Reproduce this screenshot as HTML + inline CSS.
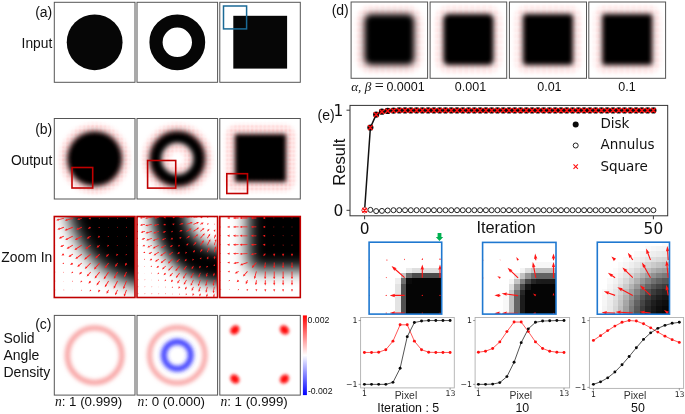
<!DOCTYPE html>
<html lang="en"><head><meta charset="utf-8"><title>Figure</title>
<style>html,body{margin:0;padding:0;background:#fff}svg{display:block}</style>
</head><body>
<svg width="685" height="414" viewBox="0 0 685 414">
<defs>
<pattern id="dots" width="12.6" height="12.6" patternUnits="userSpaceOnUse"><g fill="#ff1010"><rect x="0.3" y="0.3" width="0.55" height="0.55"/><rect x="1.56" y="0.3" width="0.55" height="0.55"/><rect x="2.82" y="0.3" width="0.55" height="0.55"/><rect x="4.08" y="0.3" width="0.55" height="0.55"/><rect x="5.34" y="0.3" width="0.55" height="0.55"/><rect x="6.6" y="0.3" width="0.55" height="0.55"/><rect x="7.86" y="0.3" width="0.55" height="0.55"/><rect x="9.12" y="0.3" width="0.55" height="0.55"/><rect x="10.38" y="0.3" width="0.55" height="0.55"/><rect x="11.64" y="0.3" width="0.55" height="0.55"/><rect x="0.3" y="1.56" width="0.55" height="0.55"/><rect x="1.56" y="1.56" width="0.55" height="0.55"/><rect x="2.82" y="1.56" width="0.55" height="0.55"/><rect x="4.08" y="1.56" width="0.55" height="0.55"/><rect x="5.34" y="1.56" width="0.55" height="0.55"/><rect x="6.6" y="1.56" width="0.55" height="0.55"/><rect x="7.86" y="1.56" width="0.55" height="0.55"/><rect x="9.12" y="1.56" width="0.55" height="0.55"/><rect x="10.38" y="1.56" width="0.55" height="0.55"/><rect x="11.64" y="1.56" width="0.55" height="0.55"/><rect x="0.3" y="2.82" width="0.55" height="0.55"/><rect x="1.56" y="2.82" width="0.55" height="0.55"/><rect x="2.82" y="2.82" width="0.55" height="0.55"/><rect x="4.08" y="2.82" width="0.55" height="0.55"/><rect x="5.34" y="2.82" width="0.55" height="0.55"/><rect x="6.6" y="2.82" width="0.55" height="0.55"/><rect x="7.86" y="2.82" width="0.55" height="0.55"/><rect x="9.12" y="2.82" width="0.55" height="0.55"/><rect x="10.38" y="2.82" width="0.55" height="0.55"/><rect x="11.64" y="2.82" width="0.55" height="0.55"/><rect x="0.3" y="4.08" width="0.55" height="0.55"/><rect x="1.56" y="4.08" width="0.55" height="0.55"/><rect x="2.82" y="4.08" width="0.55" height="0.55"/><rect x="4.08" y="4.08" width="0.55" height="0.55"/><rect x="5.34" y="4.08" width="0.55" height="0.55"/><rect x="6.6" y="4.08" width="0.55" height="0.55"/><rect x="7.86" y="4.08" width="0.55" height="0.55"/><rect x="9.12" y="4.08" width="0.55" height="0.55"/><rect x="10.38" y="4.08" width="0.55" height="0.55"/><rect x="11.64" y="4.08" width="0.55" height="0.55"/><rect x="0.3" y="5.34" width="0.55" height="0.55"/><rect x="1.56" y="5.34" width="0.55" height="0.55"/><rect x="2.82" y="5.34" width="0.55" height="0.55"/><rect x="4.08" y="5.34" width="0.55" height="0.55"/><rect x="5.34" y="5.34" width="0.55" height="0.55"/><rect x="6.6" y="5.34" width="0.55" height="0.55"/><rect x="7.86" y="5.34" width="0.55" height="0.55"/><rect x="9.12" y="5.34" width="0.55" height="0.55"/><rect x="10.38" y="5.34" width="0.55" height="0.55"/><rect x="11.64" y="5.34" width="0.55" height="0.55"/><rect x="0.3" y="6.6" width="0.55" height="0.55"/><rect x="1.56" y="6.6" width="0.55" height="0.55"/><rect x="2.82" y="6.6" width="0.55" height="0.55"/><rect x="4.08" y="6.6" width="0.55" height="0.55"/><rect x="5.34" y="6.6" width="0.55" height="0.55"/><rect x="6.6" y="6.6" width="0.55" height="0.55"/><rect x="7.86" y="6.6" width="0.55" height="0.55"/><rect x="9.12" y="6.6" width="0.55" height="0.55"/><rect x="10.38" y="6.6" width="0.55" height="0.55"/><rect x="11.64" y="6.6" width="0.55" height="0.55"/><rect x="0.3" y="7.86" width="0.55" height="0.55"/><rect x="1.56" y="7.86" width="0.55" height="0.55"/><rect x="2.82" y="7.86" width="0.55" height="0.55"/><rect x="4.08" y="7.86" width="0.55" height="0.55"/><rect x="5.34" y="7.86" width="0.55" height="0.55"/><rect x="6.6" y="7.86" width="0.55" height="0.55"/><rect x="7.86" y="7.86" width="0.55" height="0.55"/><rect x="9.12" y="7.86" width="0.55" height="0.55"/><rect x="10.38" y="7.86" width="0.55" height="0.55"/><rect x="11.64" y="7.86" width="0.55" height="0.55"/><rect x="0.3" y="9.12" width="0.55" height="0.55"/><rect x="1.56" y="9.12" width="0.55" height="0.55"/><rect x="2.82" y="9.12" width="0.55" height="0.55"/><rect x="4.08" y="9.12" width="0.55" height="0.55"/><rect x="5.34" y="9.12" width="0.55" height="0.55"/><rect x="6.6" y="9.12" width="0.55" height="0.55"/><rect x="7.86" y="9.12" width="0.55" height="0.55"/><rect x="9.12" y="9.12" width="0.55" height="0.55"/><rect x="10.38" y="9.12" width="0.55" height="0.55"/><rect x="11.64" y="9.12" width="0.55" height="0.55"/><rect x="0.3" y="10.38" width="0.55" height="0.55"/><rect x="1.56" y="10.38" width="0.55" height="0.55"/><rect x="2.82" y="10.38" width="0.55" height="0.55"/><rect x="4.08" y="10.38" width="0.55" height="0.55"/><rect x="5.34" y="10.38" width="0.55" height="0.55"/><rect x="6.6" y="10.38" width="0.55" height="0.55"/><rect x="7.86" y="10.38" width="0.55" height="0.55"/><rect x="9.12" y="10.38" width="0.55" height="0.55"/><rect x="10.38" y="10.38" width="0.55" height="0.55"/><rect x="11.64" y="10.38" width="0.55" height="0.55"/><rect x="0.3" y="11.64" width="0.55" height="0.55"/><rect x="1.56" y="11.64" width="0.55" height="0.55"/><rect x="2.82" y="11.64" width="0.55" height="0.55"/><rect x="4.08" y="11.64" width="0.55" height="0.55"/><rect x="5.34" y="11.64" width="0.55" height="0.55"/><rect x="6.6" y="11.64" width="0.55" height="0.55"/><rect x="7.86" y="11.64" width="0.55" height="0.55"/><rect x="9.12" y="11.64" width="0.55" height="0.55"/><rect x="10.38" y="11.64" width="0.55" height="0.55"/><rect x="11.64" y="11.64" width="0.55" height="0.55"/></g></pattern>
<pattern id="dotsd" width="11.95" height="11.95" patternUnits="userSpaceOnUse"><g fill="#ff1010"><rect x="0.3" y="0.3" width="0.5" height="0.5"/><rect x="1.5" y="0.3" width="0.5" height="0.5"/><rect x="2.69" y="0.3" width="0.5" height="0.5"/><rect x="3.88" y="0.3" width="0.5" height="0.5"/><rect x="5.08" y="0.3" width="0.5" height="0.5"/><rect x="6.28" y="0.3" width="0.5" height="0.5"/><rect x="7.47" y="0.3" width="0.5" height="0.5"/><rect x="8.67" y="0.3" width="0.5" height="0.5"/><rect x="9.86" y="0.3" width="0.5" height="0.5"/><rect x="11.06" y="0.3" width="0.5" height="0.5"/><rect x="0.3" y="1.5" width="0.5" height="0.5"/><rect x="1.5" y="1.5" width="0.5" height="0.5"/><rect x="2.69" y="1.5" width="0.5" height="0.5"/><rect x="3.88" y="1.5" width="0.5" height="0.5"/><rect x="5.08" y="1.5" width="0.5" height="0.5"/><rect x="6.28" y="1.5" width="0.5" height="0.5"/><rect x="7.47" y="1.5" width="0.5" height="0.5"/><rect x="8.67" y="1.5" width="0.5" height="0.5"/><rect x="9.86" y="1.5" width="0.5" height="0.5"/><rect x="11.06" y="1.5" width="0.5" height="0.5"/><rect x="0.3" y="2.69" width="0.5" height="0.5"/><rect x="1.5" y="2.69" width="0.5" height="0.5"/><rect x="2.69" y="2.69" width="0.5" height="0.5"/><rect x="3.88" y="2.69" width="0.5" height="0.5"/><rect x="5.08" y="2.69" width="0.5" height="0.5"/><rect x="6.28" y="2.69" width="0.5" height="0.5"/><rect x="7.47" y="2.69" width="0.5" height="0.5"/><rect x="8.67" y="2.69" width="0.5" height="0.5"/><rect x="9.86" y="2.69" width="0.5" height="0.5"/><rect x="11.06" y="2.69" width="0.5" height="0.5"/><rect x="0.3" y="3.88" width="0.5" height="0.5"/><rect x="1.5" y="3.88" width="0.5" height="0.5"/><rect x="2.69" y="3.88" width="0.5" height="0.5"/><rect x="3.88" y="3.88" width="0.5" height="0.5"/><rect x="5.08" y="3.88" width="0.5" height="0.5"/><rect x="6.28" y="3.88" width="0.5" height="0.5"/><rect x="7.47" y="3.88" width="0.5" height="0.5"/><rect x="8.67" y="3.88" width="0.5" height="0.5"/><rect x="9.86" y="3.88" width="0.5" height="0.5"/><rect x="11.06" y="3.88" width="0.5" height="0.5"/><rect x="0.3" y="5.08" width="0.5" height="0.5"/><rect x="1.5" y="5.08" width="0.5" height="0.5"/><rect x="2.69" y="5.08" width="0.5" height="0.5"/><rect x="3.88" y="5.08" width="0.5" height="0.5"/><rect x="5.08" y="5.08" width="0.5" height="0.5"/><rect x="6.28" y="5.08" width="0.5" height="0.5"/><rect x="7.47" y="5.08" width="0.5" height="0.5"/><rect x="8.67" y="5.08" width="0.5" height="0.5"/><rect x="9.86" y="5.08" width="0.5" height="0.5"/><rect x="11.06" y="5.08" width="0.5" height="0.5"/><rect x="0.3" y="6.28" width="0.5" height="0.5"/><rect x="1.5" y="6.28" width="0.5" height="0.5"/><rect x="2.69" y="6.28" width="0.5" height="0.5"/><rect x="3.88" y="6.28" width="0.5" height="0.5"/><rect x="5.08" y="6.28" width="0.5" height="0.5"/><rect x="6.28" y="6.28" width="0.5" height="0.5"/><rect x="7.47" y="6.28" width="0.5" height="0.5"/><rect x="8.67" y="6.28" width="0.5" height="0.5"/><rect x="9.86" y="6.28" width="0.5" height="0.5"/><rect x="11.06" y="6.28" width="0.5" height="0.5"/><rect x="0.3" y="7.47" width="0.5" height="0.5"/><rect x="1.5" y="7.47" width="0.5" height="0.5"/><rect x="2.69" y="7.47" width="0.5" height="0.5"/><rect x="3.88" y="7.47" width="0.5" height="0.5"/><rect x="5.08" y="7.47" width="0.5" height="0.5"/><rect x="6.28" y="7.47" width="0.5" height="0.5"/><rect x="7.47" y="7.47" width="0.5" height="0.5"/><rect x="8.67" y="7.47" width="0.5" height="0.5"/><rect x="9.86" y="7.47" width="0.5" height="0.5"/><rect x="11.06" y="7.47" width="0.5" height="0.5"/><rect x="0.3" y="8.67" width="0.5" height="0.5"/><rect x="1.5" y="8.67" width="0.5" height="0.5"/><rect x="2.69" y="8.67" width="0.5" height="0.5"/><rect x="3.88" y="8.67" width="0.5" height="0.5"/><rect x="5.08" y="8.67" width="0.5" height="0.5"/><rect x="6.28" y="8.67" width="0.5" height="0.5"/><rect x="7.47" y="8.67" width="0.5" height="0.5"/><rect x="8.67" y="8.67" width="0.5" height="0.5"/><rect x="9.86" y="8.67" width="0.5" height="0.5"/><rect x="11.06" y="8.67" width="0.5" height="0.5"/><rect x="0.3" y="9.86" width="0.5" height="0.5"/><rect x="1.5" y="9.86" width="0.5" height="0.5"/><rect x="2.69" y="9.86" width="0.5" height="0.5"/><rect x="3.88" y="9.86" width="0.5" height="0.5"/><rect x="5.08" y="9.86" width="0.5" height="0.5"/><rect x="6.28" y="9.86" width="0.5" height="0.5"/><rect x="7.47" y="9.86" width="0.5" height="0.5"/><rect x="8.67" y="9.86" width="0.5" height="0.5"/><rect x="9.86" y="9.86" width="0.5" height="0.5"/><rect x="11.06" y="9.86" width="0.5" height="0.5"/><rect x="0.3" y="11.06" width="0.5" height="0.5"/><rect x="1.5" y="11.06" width="0.5" height="0.5"/><rect x="2.69" y="11.06" width="0.5" height="0.5"/><rect x="3.88" y="11.06" width="0.5" height="0.5"/><rect x="5.08" y="11.06" width="0.5" height="0.5"/><rect x="6.28" y="11.06" width="0.5" height="0.5"/><rect x="7.47" y="11.06" width="0.5" height="0.5"/><rect x="8.67" y="11.06" width="0.5" height="0.5"/><rect x="9.86" y="11.06" width="0.5" height="0.5"/><rect x="11.06" y="11.06" width="0.5" height="0.5"/></g></pattern>
<filter id="b2" x="-50%" y="-50%" width="200%" height="200%"><feGaussianBlur stdDeviation="2.0"/></filter>
<filter id="b1" x="-50%" y="-50%" width="200%" height="200%"><feGaussianBlur stdDeviation="1.5"/></filter>
<filter id="b8" x="-50%" y="-50%" width="200%" height="200%"><feGaussianBlur stdDeviation="7.8"/></filter>
<filter id="bh" x="-50%" y="-50%" width="200%" height="200%"><feGaussianBlur stdDeviation="1.9"/></filter>
<filter id="bc" x="-50%" y="-50%" width="200%" height="200%"><feGaussianBlur stdDeviation="2.3"/></filter>
<filter id="bc2" x="-50%" y="-50%" width="200%" height="200%"><feGaussianBlur stdDeviation="1.9"/></filter>
<filter id="bb" x="-50%" y="-50%" width="200%" height="200%"><feGaussianBlur stdDeviation="2.0"/></filter>
<linearGradient id="cbar" x1="0" y1="0" x2="0" y2="1"><stop offset="0" stop-color="#ff0000"/><stop offset="0.5" stop-color="#ffffff"/><stop offset="1" stop-color="#0000ff"/></linearGradient>
</defs>
<rect width="685" height="414" fill="#fff"/>
<circle cx="94.65" cy="42.3" r="27.9" fill="#060606"/>
<circle cx="177.3" cy="42.3" r="21.3" fill="none" stroke="#060606" stroke-width="13.2"/>
<rect x="233.3" y="15.8" width="53.8" height="52.8" fill="#060606"/>
<rect x="223.5" y="6" width="23.1" height="22.9" fill="none" stroke="#1b6a96" stroke-width="1.5"/>
<rect x="54.3" y="2.3" width="80.7" height="80" fill="none" stroke="#555" stroke-width="1"/>
<rect x="137" y="2.3" width="80.6" height="80" fill="none" stroke="#555" stroke-width="1"/>
<rect x="219.8" y="2.3" width="80.5" height="80" fill="none" stroke="#555" stroke-width="1"/>
<text x="52.3" y="16.5" font-size="14" text-anchor="end" font-family="Liberation Sans, Arial, sans-serif" fill="#111" >(a)</text>
<text x="52.3" y="48" font-size="13.8" text-anchor="end" font-family="Liberation Sans, Arial, sans-serif" fill="#111" >Input</text>
<text x="52.3" y="133.5" font-size="14" text-anchor="end" font-family="Liberation Sans, Arial, sans-serif" fill="#111" >(b)</text>
<text x="52.3" y="165" font-size="13.8" text-anchor="end" font-family="Liberation Sans, Arial, sans-serif" fill="#111" >Output</text>
<text x="52.3" y="262" font-size="13.9" text-anchor="end" font-family="Liberation Sans, Arial, sans-serif" fill="#111" >Zoom In</text>
<text x="51.5" y="328.5" font-size="14" text-anchor="end" font-family="Liberation Sans, Arial, sans-serif" fill="#111" >(c)</text>
<text x="3.5" y="343" font-size="14" text-anchor="start" font-family="Liberation Sans, Arial, sans-serif" fill="#111" >Solid</text>
<text x="3.5" y="360" font-size="14" text-anchor="start" font-family="Liberation Sans, Arial, sans-serif" fill="#111" >Angle</text>
<text x="3.5" y="377" font-size="14" text-anchor="start" font-family="Liberation Sans, Arial, sans-serif" fill="#111" >Density</text>
<svg x="54.3" y="118.5" width="80.7" height="80.5" viewBox="54.3 118.5 80.7 80.5">
<filter id="f0" x="-50%" y="-50%" width="200%" height="200%"><feGaussianBlur stdDeviation="2.6"/></filter><circle cx="94.65" cy="158.75" r="27.8" fill="#050505" filter="url(#f0)"/><mask id="mf0" maskUnits="userSpaceOnUse" x="54.3" y="118.5" width="81" height="81"><g filter="url(#bh)"><circle cx="94.65" cy="158.75" r="30.2" fill="none" stroke="#fff" stroke-width="9.5"/></g></mask><g mask="url(#mf0)"><rect x="54.3" y="118.5" width="81" height="81" fill="url(#dots)" opacity="0.42"/><rect x="54.3" y="118.5" width="81" height="81" fill="#ff6060" opacity="0.1"/></g>
</svg>
<rect x="54.3" y="118.5" width="80.7" height="80.5" fill="none" stroke="#555" stroke-width="1"/>
<rect x="72" y="167.5" width="20.7" height="20.5" fill="none" stroke="#c00000" stroke-width="1.6"/>
<svg x="137" y="118.5" width="80.6" height="80.5" viewBox="137 118.5 80.6 80.5">
<filter id="f1" x="-50%" y="-50%" width="200%" height="200%"><feGaussianBlur stdDeviation="2.5"/></filter><circle cx="177.35" cy="158.75" r="22.0" fill="none" stroke="#050505" stroke-width="12.6" filter="url(#f1)"/><mask id="mf1" maskUnits="userSpaceOnUse" x="137" y="118.5" width="81" height="81"><g filter="url(#bh)"><circle cx="177.35" cy="158.75" r="30.2" fill="none" stroke="#fff" stroke-width="9.5"/><circle cx="177.35" cy="158.75" r="11.5" fill="none" stroke="#fff" stroke-width="8"/></g></mask><g mask="url(#mf1)"><rect x="137" y="118.5" width="81" height="81" fill="url(#dots)" opacity="0.42"/><rect x="137" y="118.5" width="81" height="81" fill="#ff6060" opacity="0.1"/></g>
</svg>
<rect x="137" y="118.5" width="80.6" height="80.5" fill="none" stroke="#555" stroke-width="1"/>
<rect x="147.6" y="160.5" width="28.1" height="27.6" fill="none" stroke="#c00000" stroke-width="1.6"/>
<svg x="219.8" y="118.5" width="80.5" height="80.5" viewBox="219.8 118.5 80.5 80.5">
<filter id="f2" x="-50%" y="-50%" width="200%" height="200%"><feGaussianBlur stdDeviation="2.3"/></filter><rect x="234.6" y="133.8" width="51.8" height="48.4" rx="2.5" fill="#050505" filter="url(#f2)"/><mask id="mf2" maskUnits="userSpaceOnUse" x="219.8" y="118.5" width="81" height="81"><g filter="url(#bh)"><rect x="231.1" y="130.3" width="58.8" height="55.4" rx="6" fill="none" stroke="#fff" stroke-width="10.5"/></g></mask><g mask="url(#mf2)"><rect x="219.8" y="118.5" width="81" height="81" fill="url(#dots)" opacity="0.42"/><rect x="219.8" y="118.5" width="81" height="81" fill="#ff6060" opacity="0.1"/></g>
</svg>
<rect x="219.8" y="118.5" width="80.5" height="80.5" fill="none" stroke="#555" stroke-width="1"/>
<rect x="226.8" y="173.7" width="20.7" height="19.8" fill="none" stroke="#c00000" stroke-width="1.6"/>
<svg x="54.3" y="216.5" width="80.7" height="81" viewBox="65.8 165.2 21.52 21.6" preserveAspectRatio="none">
<filter id="f3" x="-50%" y="-50%" width="200%" height="200%"><feGaussianBlur stdDeviation="2.1"/></filter><circle cx="94.65" cy="158.75" r="25.8" fill="#050505" filter="url(#f3)"/>
</svg>
<svg x="54.3" y="216.5" width="80.7" height="81" viewBox="54.3 216.5 80.7 81"><path d="M54.8 217.89 L52.67 218.39 L52.82 217.57 L50.45 219.36 L53.37 219.89 L52.87 219.22 L55 218.71Z" fill="#ff1c1c"/><path d="M63.74 217.89 L58.36 219.29 L58.5 218.46 L56.16 220.3 L59.1 220.77 L58.57 220.11 L63.96 218.71Z" fill="#ff1c1c"/><path d="M72.68 217.89 L66.99 219.52 L67.11 218.69 L64.82 220.59 L67.77 220.98 L67.23 220.34 L72.92 218.71Z" fill="#ff1c1c"/><path d="M81.62 217.9 L79.22 218.66 L79.31 217.83 L77.08 219.79 L80.03 220.1 L79.47 219.47 L81.88 218.7Z" fill="#ff1c1c"/><path d="M90.57 217.95 L90.29 218.05 L90.35 217.32 L88.46 219.1 L91.05 219.28 L90.55 218.75 L90.83 218.65Z" fill="#ff1c1c"/><path d="M99.59 218.15 L99.46 218.2 L99.47 217.87 L98.66 218.71 L99.83 218.73 L99.59 218.5 L99.71 218.45Z" fill="#ff1c1c"/><circle cx="108.6" cy="218.3" r="0.47" fill="#ff1c1c"/><circle cx="117.55" cy="218.3" r="0.47" fill="#ff1c1c"/><circle cx="126.5" cy="218.3" r="0.47" fill="#ff1c1c"/><path d="M54.77 226.85 L53.51 227.25 L53.6 226.42 L51.38 228.39 L54.33 228.68 L53.77 228.06 L55.03 227.65Z" fill="#ff1c1c"/><path d="M63.71 226.85 L59.42 228.38 L59.49 227.54 L57.32 229.57 L60.29 229.78 L59.71 229.18 L63.99 227.65Z" fill="#ff1c1c"/><path d="M72.64 226.85 L66.69 229.2 L66.72 228.36 L64.63 230.47 L67.59 230.58 L67 229.99 L72.96 227.65Z" fill="#ff1c1c"/><path d="M81.58 226.86 L78.04 228.41 L78.05 227.58 L76.03 229.76 L79 229.76 L78.38 229.19 L81.92 227.64Z" fill="#ff1c1c"/><path d="M90.51 226.87 L89.68 227.27 L89.65 226.44 L87.73 228.7 L90.7 228.58 L90.06 228.04 L90.89 227.63Z" fill="#ff1c1c"/><path d="M99.53 227.03 L99.35 227.13 L99.31 226.63 L98.24 228.03 L99.99 227.87 L99.6 227.57 L99.77 227.47Z" fill="#ff1c1c"/><path d="M108.53 227.15 L108.46 227.21 L108.42 226.98 L107.98 227.67 L108.78 227.52 L108.59 227.4 L108.67 227.35Z" fill="#ff1c1c"/><circle cx="117.55" cy="227.25" r="0.47" fill="#ff1c1c"/><circle cx="126.5" cy="227.25" r="0.47" fill="#ff1c1c"/><path d="M54.74 235.81 L54.33 235.98 L54.35 235.14 L52.28 237.27 L55.25 237.34 L54.65 236.76 L55.06 236.59Z" fill="#ff1c1c"/><path d="M63.68 235.81 L60.77 237.11 L60.77 236.28 L58.77 238.47 L61.74 238.45 L61.12 237.89 L64.02 236.59Z" fill="#ff1c1c"/><path d="M72.61 235.82 L67.14 238.51 L67.11 237.67 L65.19 239.94 L68.16 239.81 L67.52 239.27 L72.99 236.58Z" fill="#ff1c1c"/><path d="M81.55 235.83 L76.81 238.42 L76.74 237.59 L74.93 239.94 L77.89 239.67 L77.22 239.17 L81.95 236.57Z" fill="#ff1c1c"/><path d="M90.48 235.84 L88.47 237.07 L88.36 236.24 L86.66 238.68 L89.6 238.27 L88.91 237.79 L90.92 236.56Z" fill="#ff1c1c"/><path d="M99.43 235.88 L99.17 236.06 L99.02 235.3 L97.6 237.63 L100.28 237.1 L99.62 236.7 L99.87 236.52Z" fill="#ff1c1c"/><path d="M108.47 236.04 L108.35 236.15 L108.25 235.77 L107.61 237.01 L108.95 236.63 L108.6 236.46 L108.73 236.36Z" fill="#ff1c1c"/><path d="M117.48 236.13 L117.42 236.18 L117.35 235.99 L117.08 236.66 L117.75 236.41 L117.56 236.33 L117.62 236.27Z" fill="#ff1c1c"/><circle cx="126.5" cy="236.2" r="0.47" fill="#ff1c1c"/><path d="M54.76 244.87 L54.53 244.98 L54.51 244.35 L53.08 246.04 L55.29 245.95 L54.81 245.54 L55.04 245.43Z" fill="#ff1c1c"/><path d="M63.65 244.78 L62.14 245.58 L62.08 244.74 L60.25 247.07 L63.21 246.84 L62.54 246.33 L64.05 245.52Z" fill="#ff1c1c"/><path d="M72.58 244.78 L68.49 247.19 L68.39 246.36 L66.65 248.76 L69.6 248.41 L68.92 247.92 L73.02 245.52Z" fill="#ff1c1c"/><path d="M81.52 244.79 L76.17 248.31 L76.04 247.48 L74.42 249.97 L77.34 249.47 L76.64 249.02 L81.98 245.51Z" fill="#ff1c1c"/><path d="M90.45 244.81 L86.94 247.4 L86.76 246.58 L85.28 249.15 L88.17 248.49 L87.44 248.08 L90.95 245.49Z" fill="#ff1c1c"/><path d="M99.38 244.82 L98.12 245.88 L97.89 245.08 L96.58 247.74 L99.42 246.9 L98.67 246.53 L99.92 245.48Z" fill="#ff1c1c"/><path d="M108.35 244.9 L108.15 245.1 L107.91 244.45 L107 246.72 L109.29 245.85 L108.65 245.6 L108.85 245.4Z" fill="#ff1c1c"/><path d="M117.4 245.02 L117.3 245.14 L117.13 244.79 L116.73 246.12 L117.97 245.51 L117.6 245.4 L117.7 245.28Z" fill="#ff1c1c"/><path d="M126.41 245.08 L126.35 245.16 L126.24 244.97 L126.08 245.75 L126.76 245.33 L126.54 245.29 L126.59 245.22Z" fill="#ff1c1c"/><path d="M54.8 253.91 L54.65 254 L54.61 253.58 L53.71 254.77 L55.19 254.62 L54.86 254.37 L55 254.29Z" fill="#ff1c1c"/><path d="M63.63 253.74 L63.29 253.95 L63.18 253.12 L61.49 255.56 L64.43 255.14 L63.74 254.67 L64.07 254.46Z" fill="#ff1c1c"/><path d="M72.56 253.75 L70.25 255.34 L70.09 254.51 L68.52 257.03 L71.44 256.48 L70.73 256.04 L73.04 254.45Z" fill="#ff1c1c"/><path d="M81.49 253.76 L76.94 257.25 L76.74 256.44 L75.31 259.04 L78.19 258.33 L77.46 257.93 L82.01 254.44Z" fill="#ff1c1c"/><path d="M90.42 253.78 L85.75 257.81 L85.51 257 L84.22 259.68 L87.06 258.81 L86.3 258.45 L90.98 254.42Z" fill="#ff1c1c"/><path d="M99.35 253.8 L96.54 256.57 L96.24 255.79 L95.14 258.54 L97.91 257.48 L97.13 257.18 L99.95 254.4Z" fill="#ff1c1c"/><path d="M108.28 253.82 L107.23 255.03 L106.87 254.27 L105.99 257.11 L108.67 255.83 L107.87 255.59 L108.92 254.38Z" fill="#ff1c1c"/><path d="M117.24 253.88 L117.06 254.12 L116.68 253.47 L116.12 256.09 L118.42 254.73 L117.68 254.57 L117.86 254.32Z" fill="#ff1c1c"/><path d="M126.29 253.98 L126.19 254.15 L125.91 253.76 L125.72 255.45 L127.09 254.44 L126.61 254.39 L126.71 254.22Z" fill="#ff1c1c"/><path d="M54.83 262.94 L54.74 262.99 L54.7 262.73 L54.17 263.5 L55.1 263.37 L54.88 263.22 L54.97 263.16Z" fill="#ff1c1c"/><path d="M63.69 262.83 L63.51 262.95 L63.4 262.42 L62.41 264.07 L64.3 263.68 L63.83 263.4 L64.01 263.27Z" fill="#ff1c1c"/><path d="M72.54 262.72 L71.77 263.32 L71.56 262.51 L70.16 265.12 L73.03 264.38 L72.29 263.99 L73.06 263.38Z" fill="#ff1c1c"/><path d="M81.47 262.73 L78.77 265.1 L78.52 264.3 L77.26 266.98 L80.09 266.09 L79.33 265.74 L82.03 263.37Z" fill="#ff1c1c"/><path d="M90.4 262.75 L86.15 266.94 L85.86 266.16 L84.76 268.92 L87.53 267.85 L86.75 267.55 L91 263.35Z" fill="#ff1c1c"/><path d="M99.33 262.77 L95.25 267.37 L94.9 266.61 L93.99 269.44 L96.68 268.19 L95.89 267.94 L99.97 263.33Z" fill="#ff1c1c"/><path d="M108.26 262.79 L105.67 266.2 L105.27 265.47 L104.57 268.36 L107.16 266.91 L106.35 266.72 L108.94 263.31Z" fill="#ff1c1c"/><path d="M117.19 262.82 L115.99 264.72 L115.52 264.03 L115.08 266.96 L117.54 265.3 L116.71 265.18 L117.91 263.28Z" fill="#ff1c1c"/><path d="M126.12 262.86 L125.75 263.59 L125.22 262.94 L125.06 265.9 L127.35 264.01 L126.51 263.97 L126.88 263.24Z" fill="#ff1c1c"/><circle cx="54.9" cy="272" r="0.47" fill="#ff1c1c"/><path d="M63.75 271.87 L63.64 271.95 L63.56 271.64 L63.02 272.65 L64.14 272.36 L63.85 272.21 L63.95 272.13Z" fill="#ff1c1c"/><path d="M72.59 271.76 L72.4 271.93 L72.22 271.34 L71.29 273.33 L73.38 272.66 L72.82 272.4 L73.01 272.24Z" fill="#ff1c1c"/><path d="M81.45 271.7 L80.51 272.63 L80.21 271.85 L79.11 274.61 L81.88 273.54 L81.1 273.24 L82.05 272.3Z" fill="#ff1c1c"/><path d="M90.38 271.72 L87.96 274.41 L87.62 273.65 L86.69 276.46 L89.39 275.24 L88.6 274.98 L91.02 272.28Z" fill="#ff1c1c"/><path d="M99.32 271.74 L95.74 276.28 L95.35 275.54 L94.6 278.42 L97.22 277.01 L96.41 276.81 L99.98 272.26Z" fill="#ff1c1c"/><path d="M108.25 271.76 L104.68 277.05 L104.24 276.34 L103.7 279.26 L106.21 277.67 L105.39 277.52 L108.95 272.24Z" fill="#ff1c1c"/><path d="M117.18 271.79 L114.59 276.39 L114.09 275.72 L113.8 278.68 L116.17 276.89 L115.33 276.81 L117.92 272.21Z" fill="#ff1c1c"/><path d="M126.11 271.83 L124.6 275.19 L124.04 274.56 L124.01 277.53 L126.21 275.54 L125.37 275.54 L126.89 272.17Z" fill="#ff1c1c"/><circle cx="54.9" cy="280.95" r="0.47" fill="#ff1c1c"/><path d="M63.79 280.88 L63.73 280.93 L63.68 280.75 L63.4 281.34 L64.02 281.15 L63.85 281.07 L63.91 281.02Z" fill="#ff1c1c"/><path d="M72.68 280.82 L72.57 280.92 L72.45 280.6 L71.99 281.75 L73.15 281.3 L72.82 281.18 L72.92 281.08Z" fill="#ff1c1c"/><path d="M81.51 280.73 L81.33 280.92 L81.07 280.34 L80.35 282.5 L82.43 281.56 L81.82 281.36 L81.99 281.17Z" fill="#ff1c1c"/><path d="M90.37 280.68 L89.66 281.56 L89.28 280.82 L88.5 283.68 L91.13 282.31 L90.32 282.1 L91.03 281.22Z" fill="#ff1c1c"/><path d="M99.3 280.7 L97.54 283.2 L97.12 282.48 L96.52 285.38 L99.06 283.85 L98.24 283.69 L100 281.2Z" fill="#ff1c1c"/><path d="M108.24 280.73 L105.63 285.03 L105.16 284.34 L104.76 287.28 L107.19 285.57 L106.36 285.47 L108.96 281.17Z" fill="#ff1c1c"/><path d="M117.17 280.76 L114.35 286.33 L113.82 285.69 L113.65 288.65 L115.94 286.76 L115.11 286.72 L117.93 281.14Z" fill="#ff1c1c"/><path d="M126.11 280.79 L123.72 286.65 L123.14 286.05 L123.22 289.01 L125.35 286.94 L124.51 286.97 L126.89 281.11Z" fill="#ff1c1c"/><circle cx="54.9" cy="289.9" r="0.47" fill="#ff1c1c"/><circle cx="63.85" cy="289.9" r="0.47" fill="#ff1c1c"/><path d="M72.73 289.84 L72.68 289.89 L72.61 289.72 L72.4 290.34 L72.99 290.08 L72.82 290.02 L72.87 289.96Z" fill="#ff1c1c"/><path d="M81.62 289.79 L81.53 289.9 L81.37 289.59 L81.05 290.76 L82.13 290.21 L81.8 290.12 L81.88 290.01Z" fill="#ff1c1c"/><path d="M90.47 289.73 L90.33 289.92 L90.04 289.42 L89.6 291.4 L91.36 290.38 L90.8 290.26 L90.93 290.07Z" fill="#ff1c1c"/><path d="M99.29 289.67 L98.99 290.15 L98.53 289.45 L98.07 292.38 L100.53 290.73 L99.7 290.6 L100.01 290.13Z" fill="#ff1c1c"/><path d="M108.23 289.7 L107.28 291.42 L106.77 290.76 L106.51 293.72 L108.86 291.9 L108.02 291.83 L108.97 290.1Z" fill="#ff1c1c"/><path d="M117.16 289.72 L115.69 292.93 L115.14 292.3 L115.09 295.27 L117.3 293.3 L116.46 293.29 L117.94 290.08Z" fill="#ff1c1c"/><path d="M126.1 289.75 L124.4 294.36 L123.8 293.78 L123.97 296.74 L126.03 294.6 L125.2 294.66 L126.9 290.05Z" fill="#ff1c1c"/></svg>
<rect x="54.3" y="216.5" width="80.7" height="81" fill="none" stroke="#c00000" stroke-width="1.6"/>
<svg x="137" y="216.5" width="80.6" height="81" viewBox="146.6 160.9 28.08 28.22" preserveAspectRatio="none">
<filter id="f4" x="-50%" y="-50%" width="200%" height="200%"><feGaussianBlur stdDeviation="2.2"/></filter><circle cx="177.35" cy="158.75" r="19.9" fill="none" stroke="#050505" stroke-width="11.8" filter="url(#f4)"/>
</svg>
<svg x="137" y="216.5" width="80.6" height="81" viewBox="137 216.5 80.6 81"><path d="M137.97 217.13 L137.24 217.19 L137.48 216.49 L135.18 217.73 L137.65 218.58 L137.3 217.93 L138.03 217.87Z" fill="#ff1c1c"/><path d="M144.9 217.13 L141.68 217.42 L141.92 216.72 L139.62 217.98 L142.1 218.81 L141.74 218.16 L144.96 217.87Z" fill="#ff1c1c"/><path d="M151.82 217.13 L147.16 217.59 L147.39 216.88 L145.11 218.16 L147.6 218.97 L147.24 218.33 L151.9 217.87Z" fill="#ff1c1c"/><path d="M158.75 217.13 L156.14 217.41 L156.36 216.71 L154.09 218.01 L156.59 218.8 L156.22 218.16 L158.83 217.87Z" fill="#ff1c1c"/><path d="M165.68 217.13 L165.34 217.17 L165.55 216.46 L163.3 217.79 L165.81 218.55 L165.43 217.91 L165.76 217.87Z" fill="#ff1c1c"/><path d="M172.7 217.87 L173.15 217.81 L172.94 218.52 L175.18 217.15 L172.66 216.44 L173.05 217.07 L172.6 217.13Z" fill="#ff1c1c"/><path d="M179.64 217.87 L182.39 217.43 L182.2 218.15 L184.41 216.73 L181.88 216.07 L182.28 216.69 L179.52 217.13Z" fill="#ff1c1c"/><path d="M186.58 217.87 L191.19 217 L191.02 217.72 L193.19 216.24 L190.64 215.66 L191.06 216.26 L186.44 217.13Z" fill="#ff1c1c"/><path d="M193.52 217.87 L196.61 217.16 L196.47 217.89 L198.58 216.33 L196 215.84 L196.45 216.43 L193.36 217.13Z" fill="#ff1c1c"/><path d="M200.47 217.86 L201.2 217.65 L201.1 218.38 L203.12 216.71 L200.52 216.36 L200.99 216.93 L200.27 217.14Z" fill="#ff1c1c"/><path d="M207.38 217.69 L207.53 217.63 L207.51 218.04 L208.54 217.01 L207.09 216.96 L207.38 217.24 L207.22 217.31Z" fill="#ff1c1c"/><path d="M214.29 217.57 L214.35 217.53 L214.39 217.71 L214.71 217.14 L214.07 217.29 L214.23 217.38 L214.17 217.43Z" fill="#ff1c1c"/><path d="M137.94 224.06 L137.45 224.14 L137.64 223.42 L135.44 224.84 L137.97 225.5 L137.57 224.88 L138.06 224.8Z" fill="#ff1c1c"/><path d="M144.87 224.06 L142.03 224.55 L142.21 223.84 L140.02 225.28 L142.57 225.91 L142.16 225.29 L144.99 224.8Z" fill="#ff1c1c"/><path d="M151.79 224.06 L147.18 224.94 L147.35 224.22 L145.19 225.7 L147.74 226.28 L147.32 225.68 L151.93 224.8Z" fill="#ff1c1c"/><path d="M158.71 224.06 L155.72 224.69 L155.88 223.97 L153.74 225.49 L156.31 226.03 L155.88 225.43 L158.87 224.8Z" fill="#ff1c1c"/><path d="M165.63 224.06 L165 224.21 L165.14 223.49 L163.04 225.06 L165.61 225.53 L165.17 224.94 L165.81 224.8Z" fill="#ff1c1c"/><path d="M172.74 224.77 L173.01 224.7 L172.9 225.38 L174.82 223.85 L172.4 223.48 L172.83 224.02 L172.56 224.09Z" fill="#ff1c1c"/><path d="M179.69 224.79 L181.78 224.15 L181.69 224.88 L183.67 223.18 L181.07 222.88 L181.56 223.43 L179.47 224.07Z" fill="#ff1c1c"/><path d="M186.64 224.78 L190.87 223.24 L190.82 223.98 L192.72 222.17 L190.1 222.01 L190.62 222.54 L186.38 224.08Z" fill="#ff1c1c"/><path d="M193.59 224.77 L197.2 223.18 L197.2 223.92 L198.97 221.99 L196.35 222 L196.9 222.5 L193.29 224.09Z" fill="#ff1c1c"/><path d="M200.55 224.76 L201.98 223.96 L202.05 224.69 L203.63 222.61 L201.03 222.86 L201.62 223.3 L200.19 224.1Z" fill="#ff1c1c"/><path d="M207.49 224.67 L207.69 224.52 L207.83 225.11 L208.86 223.21 L206.77 223.75 L207.3 224.03 L207.11 224.19Z" fill="#ff1c1c"/><path d="M214.37 224.54 L214.45 224.43 L214.61 224.73 L214.92 223.55 L213.85 224.13 L214.18 224.21 L214.09 224.32Z" fill="#ff1c1c"/><path d="M137.92 231.02 L137.65 231.09 L137.77 230.42 L135.84 231.88 L138.23 232.3 L137.81 231.76 L138.08 231.7Z" fill="#ff1c1c"/><path d="M144.83 231 L142.64 231.57 L142.76 230.84 L140.7 232.47 L143.29 232.88 L142.83 232.3 L145.03 231.72Z" fill="#ff1c1c"/><path d="M151.76 231 L147.42 232.25 L147.53 231.52 L145.51 233.19 L148.11 233.53 L147.63 232.97 L151.96 231.72Z" fill="#ff1c1c"/><path d="M158.68 231 L155.11 232.14 L155.19 231.41 L153.22 233.14 L155.83 233.41 L155.34 232.86 L158.9 231.72Z" fill="#ff1c1c"/><path d="M165.59 231.01 L164.38 231.44 L164.43 230.7 L162.52 232.5 L165.14 232.68 L164.63 232.15 L165.85 231.71Z" fill="#ff1c1c"/><path d="M172.49 231.09 L172.28 231.22 L172.21 230.6 L170.92 232.37 L173.09 232.12 L172.59 231.76 L172.81 231.63Z" fill="#ff1c1c"/><path d="M179.74 231.7 L180.87 231.18 L180.88 231.92 L182.62 229.96 L180 230.01 L180.55 230.5 L179.42 231.02Z" fill="#ff1c1c"/><path d="M186.69 231.69 L189.91 229.93 L189.97 230.66 L191.57 228.59 L188.96 228.82 L189.55 229.27 L186.33 231.03Z" fill="#ff1c1c"/><path d="M193.65 231.67 L197.54 229.09 L197.66 229.82 L199.08 227.61 L196.5 228.07 L197.12 228.46 L193.23 231.05Z" fill="#ff1c1c"/><path d="M200.61 231.65 L203.07 229.57 L203.28 230.28 L204.44 227.93 L201.93 228.67 L202.59 228.99 L200.13 231.07Z" fill="#ff1c1c"/><path d="M207.59 231.6 L208.42 230.62 L208.74 231.28 L209.49 228.77 L207.14 229.93 L207.84 230.13 L207.01 231.12Z" fill="#ff1c1c"/><path d="M214.54 231.52 L214.67 231.27 L215.11 231.81 L215.27 229.35 L213.35 230.91 L214.05 230.95 L213.92 231.2Z" fill="#ff1c1c"/><path d="M137.91 238.02 L137.7 238.09 L137.76 237.54 L136.28 238.83 L138.24 239.04 L137.87 238.63 L138.09 238.56Z" fill="#ff1c1c"/><path d="M144.81 237.94 L143.37 238.43 L143.43 237.7 L141.51 239.48 L144.12 239.68 L143.62 239.14 L145.05 238.64Z" fill="#ff1c1c"/><path d="M151.73 237.94 L148.04 239.35 L148.08 238.61 L146.21 240.45 L148.83 240.57 L148.31 240.05 L151.99 238.64Z" fill="#ff1c1c"/><path d="M158.64 237.94 L154.57 239.68 L154.58 238.94 L152.78 240.84 L155.4 240.87 L154.86 240.37 L158.94 238.64Z" fill="#ff1c1c"/><path d="M165.56 237.95 L163.52 238.91 L163.5 238.18 L161.78 240.15 L164.4 240.08 L163.84 239.59 L165.88 238.63Z" fill="#ff1c1c"/><path d="M172.48 237.96 L172.21 238.1 L172.16 237.37 L170.55 239.4 L173.14 239.21 L172.56 238.76 L172.82 238.62Z" fill="#ff1c1c"/><path d="M179.77 238.61 L180.04 238.45 L180.13 239.18 L181.64 237.04 L179.04 237.39 L179.65 237.81 L179.39 237.97Z" fill="#ff1c1c"/><path d="M186.73 238.59 L188.56 237.27 L188.71 237.99 L190.04 235.74 L187.48 236.29 L188.12 236.66 L186.29 237.99Z" fill="#ff1c1c"/><path d="M193.69 238.57 L196.85 235.79 L197.07 236.5 L198.18 234.13 L195.69 234.92 L196.36 235.23 L193.19 238.01Z" fill="#ff1c1c"/><path d="M200.65 238.54 L203.72 235.12 L204.02 235.79 L204.84 233.3 L202.46 234.39 L203.16 234.62 L200.09 238.04Z" fill="#ff1c1c"/><path d="M207.62 238.49 L209.44 235.64 L209.84 236.26 L210.25 233.67 L208.07 235.13 L208.8 235.24 L206.98 238.09Z" fill="#ff1c1c"/><path d="M214.58 238.43 L215.37 236.41 L215.89 236.94 L215.79 234.32 L213.93 236.17 L214.67 236.14 L213.88 238.15Z" fill="#ff1c1c"/><path d="M137.92 245.02 L137.76 245.08 L137.78 244.66 L136.72 245.73 L138.22 245.78 L137.92 245.48 L138.08 245.42Z" fill="#ff1c1c"/><path d="M144.78 244.88 L144.14 245.15 L144.15 244.42 L142.36 246.33 L144.98 246.34 L144.44 245.84 L145.08 245.56Z" fill="#ff1c1c"/><path d="M151.7 244.88 L149.03 246.15 L149.01 245.41 L147.29 247.39 L149.91 247.31 L149.35 246.83 L152.02 245.56Z" fill="#ff1c1c"/><path d="M158.62 244.89 L154.47 247.07 L154.42 246.33 L152.78 248.38 L155.39 248.19 L154.81 247.73 L158.96 245.55Z" fill="#ff1c1c"/><path d="M165.53 244.9 L162.51 246.67 L162.42 245.93 L160.88 248.05 L163.48 247.74 L162.88 247.31 L165.91 245.54Z" fill="#ff1c1c"/><path d="M172.44 244.91 L171.37 245.62 L171.24 244.89 L169.82 247.09 L172.4 246.64 L171.78 246.24 L172.86 245.53Z" fill="#ff1c1c"/><path d="M179.39 244.97 L179.18 245.12 L179.04 244.51 L177.95 246.45 L180.12 245.93 L179.57 245.63 L179.77 245.47Z" fill="#ff1c1c"/><path d="M186.76 245.5 L187.33 244.99 L187.55 245.69 L188.64 243.31 L186.15 244.13 L186.82 244.43 L186.26 244.94Z" fill="#ff1c1c"/><path d="M193.72 245.47 L195.39 243.65 L195.69 244.32 L196.53 241.84 L194.14 242.9 L194.84 243.14 L193.16 244.97Z" fill="#ff1c1c"/><path d="M200.67 245.44 L203.06 242.13 L203.43 242.77 L203.98 240.21 L201.72 241.54 L202.45 241.69 L200.07 245Z" fill="#ff1c1c"/><path d="M207.63 245.39 L209.78 241.21 L210.24 241.79 L210.41 239.17 L208.38 240.83 L209.11 240.87 L206.97 245.05Z" fill="#ff1c1c"/><path d="M214.59 245.33 L215.91 241.12 L216.47 241.61 L216.19 239.01 L214.46 240.98 L215.2 240.9 L213.87 245.11Z" fill="#ff1c1c"/><path d="M137.94 252.01 L137.83 252.06 L137.82 251.77 L137.12 252.56 L138.18 252.53 L137.95 252.34 L138.06 252.29Z" fill="#ff1c1c"/><path d="M144.79 251.87 L144.57 251.99 L144.53 251.38 L143.16 253.07 L145.33 252.92 L144.85 252.54 L145.07 252.43Z" fill="#ff1c1c"/><path d="M151.67 251.82 L150.23 252.65 L150.16 251.91 L148.59 254.01 L151.19 253.74 L150.6 253.3 L152.05 252.48Z" fill="#ff1c1c"/><path d="M158.59 251.83 L155.21 253.97 L155.11 253.24 L153.64 255.41 L156.23 255.01 L155.61 254.6 L158.99 252.47Z" fill="#ff1c1c"/><path d="M165.5 251.84 L161.76 254.48 L161.61 253.76 L160.26 256 L162.82 255.47 L162.19 255.1 L165.94 252.46Z" fill="#ff1c1c"/><path d="M172.42 251.86 L170.15 253.66 L169.97 252.94 L168.74 255.26 L171.27 254.59 L170.62 254.24 L172.88 252.44Z" fill="#ff1c1c"/><path d="M179.33 251.87 L178.61 252.53 L178.38 251.83 L177.31 254.22 L179.79 253.38 L179.12 253.08 L179.83 252.43Z" fill="#ff1c1c"/><path d="M186.28 251.94 L186.11 252.12 L185.86 251.55 L185.15 253.63 L187.16 252.75 L186.57 252.55 L186.74 252.36Z" fill="#ff1c1c"/><path d="M193.74 252.38 L194.08 251.92 L194.44 252.57 L195.05 250.02 L192.77 251.3 L193.49 251.47 L193.14 251.92Z" fill="#ff1c1c"/><path d="M200.69 252.34 L201.63 250.77 L202.05 251.38 L202.38 248.78 L200.25 250.3 L200.98 250.39 L200.05 251.96Z" fill="#ff1c1c"/><path d="M207.65 252.3 L208.86 249.45 L209.36 249.99 L209.33 247.37 L207.43 249.17 L208.16 249.15 L206.95 252Z" fill="#ff1c1c"/><path d="M214.59 252.24 L215.57 248.47 L216.15 248.93 L215.74 246.34 L214.12 248.4 L214.85 248.28 L213.87 252.06Z" fill="#ff1c1c"/><path d="M137.95 258.99 L137.88 259.03 L137.87 258.83 L137.43 259.38 L138.13 259.33 L137.98 259.21 L138.05 259.17Z" fill="#ff1c1c"/><path d="M144.82 258.9 L144.68 258.99 L144.63 258.57 L143.77 259.78 L145.23 259.59 L144.89 259.35 L145.04 259.26Z" fill="#ff1c1c"/><path d="M151.65 258.77 L151.24 259.04 L151.12 258.31 L149.69 260.51 L152.27 260.06 L151.65 259.67 L152.07 259.39Z" fill="#ff1c1c"/><path d="M158.57 258.78 L156.51 260.29 L156.35 259.57 L155.04 261.83 L157.59 261.26 L156.95 260.89 L159.01 259.38Z" fill="#ff1c1c"/><path d="M165.48 258.79 L162.07 261.59 L161.87 260.87 L160.68 263.21 L163.2 262.5 L162.54 262.17 L165.96 259.37Z" fill="#ff1c1c"/><path d="M172.4 258.8 L169.17 261.79 L168.93 261.09 L167.88 263.49 L170.36 262.63 L169.68 262.34 L172.9 259.36Z" fill="#ff1c1c"/><path d="M179.31 258.82 L177.43 260.81 L177.15 260.13 L176.27 262.6 L178.68 261.57 L177.98 261.33 L179.85 259.34Z" fill="#ff1c1c"/><path d="M186.22 258.85 L185.6 259.63 L185.25 258.98 L184.59 261.51 L186.9 260.28 L186.18 260.1 L186.8 259.31Z" fill="#ff1c1c"/><path d="M193.16 258.9 L193.02 259.12 L192.66 258.58 L192.29 260.86 L194.22 259.58 L193.57 259.48 L193.72 259.26Z" fill="#ff1c1c"/><path d="M200.67 259.23 L200.8 258.99 L201.22 259.51 L201.36 257.14 L199.52 258.65 L200.19 258.68 L200.07 258.93Z" fill="#ff1c1c"/><path d="M207.65 259.21 L207.92 258.48 L208.45 258.99 L208.28 256.37 L206.48 258.27 L207.21 258.22 L206.95 258.95Z" fill="#ff1c1c"/><path d="M214.6 259.16 L214.9 257.79 L215.49 258.23 L214.99 255.66 L213.44 257.78 L214.17 257.63 L213.86 259Z" fill="#ff1c1c"/><circle cx="138" cy="266.01" r="0.41" fill="#ff1c1c"/><path d="M144.85 265.9 L144.76 265.96 L144.72 265.69 L144.21 266.5 L145.14 266.33 L144.92 266.18 L145.01 266.12Z" fill="#ff1c1c"/><path d="M151.7 265.8 L151.54 265.93 L151.42 265.43 L150.52 267.01 L152.3 266.59 L151.85 266.34 L152.02 266.22Z" fill="#ff1c1c"/><path d="M158.55 265.72 L157.78 266.37 L157.58 265.66 L156.41 268 L158.92 267.27 L158.26 266.94 L159.03 266.3Z" fill="#ff1c1c"/><path d="M165.46 265.74 L163.33 267.72 L163.09 267.02 L162.06 269.43 L164.53 268.56 L163.85 268.27 L165.98 266.28Z" fill="#ff1c1c"/><path d="M172.38 265.75 L169.29 269.01 L169.01 268.33 L168.12 270.79 L170.53 269.77 L169.84 269.52 L172.92 266.27Z" fill="#ff1c1c"/><path d="M179.29 265.77 L176.46 269.21 L176.13 268.55 L175.41 271.06 L177.75 269.88 L177.04 269.68 L179.87 266.25Z" fill="#ff1c1c"/><path d="M186.2 265.8 L184.47 268.3 L184.08 267.66 L183.58 270.24 L185.81 268.86 L185.08 268.72 L186.82 266.22Z" fill="#ff1c1c"/><path d="M193.11 265.82 L192.31 267.24 L191.87 266.64 L191.59 269.25 L193.69 267.68 L192.96 267.61 L193.77 266.2Z" fill="#ff1c1c"/><path d="M200.03 265.86 L199.77 266.42 L199.28 265.88 L199.26 268.49 L201.2 266.73 L200.46 266.73 L200.71 266.16Z" fill="#ff1c1c"/><path d="M206.98 265.91 L206.9 266.16 L206.41 265.72 L206.64 268.05 L208.19 266.3 L207.54 266.37 L207.62 266.11Z" fill="#ff1c1c"/><path d="M214.54 266.02 L214.55 265.77 L215.11 266.03 L214.28 264.01 L213.35 265.99 L213.92 265.75 L213.92 266Z" fill="#ff1c1c"/><circle cx="138" cy="272.94" r="0.41" fill="#ff1c1c"/><path d="M144.88 272.88 L144.83 272.91 L144.8 272.76 L144.52 273.25 L145.06 273.12 L144.93 273.04 L144.98 273Z" fill="#ff1c1c"/><path d="M151.76 272.82 L151.67 272.9 L151.58 272.61 L151.1 273.58 L152.14 273.27 L151.87 273.14 L151.96 273.06Z" fill="#ff1c1c"/><path d="M158.59 272.73 L158.43 272.89 L158.24 272.35 L157.45 274.2 L159.34 273.53 L158.82 273.31 L158.99 273.15Z" fill="#ff1c1c"/><path d="M165.45 272.68 L164.74 273.42 L164.46 272.74 L163.57 275.21 L165.99 274.19 L165.29 273.94 L165.99 273.2Z" fill="#ff1c1c"/><path d="M172.36 272.7 L170.62 274.77 L170.3 274.11 L169.56 276.62 L171.91 275.46 L171.2 275.26 L172.94 273.18Z" fill="#ff1c1c"/><path d="M179.28 272.72 L176.79 276.12 L176.42 275.48 L175.86 278.04 L178.12 276.72 L177.4 276.57 L179.88 273.16Z" fill="#ff1c1c"/><path d="M186.19 272.74 L183.74 276.73 L183.32 276.12 L182.96 278.71 L185.11 277.22 L184.38 277.12 L186.83 273.14Z" fill="#ff1c1c"/><path d="M193.11 272.77 L191.29 276.35 L190.82 275.78 L190.68 278.4 L192.7 276.73 L191.96 276.69 L193.77 273.11Z" fill="#ff1c1c"/><path d="M200.02 272.8 L198.91 275.58 L198.4 275.05 L198.48 277.67 L200.35 275.83 L199.61 275.86 L200.72 273.08Z" fill="#ff1c1c"/><path d="M206.94 272.84 L206.37 274.83 L205.8 274.36 L206.15 276.96 L207.82 274.94 L207.09 275.04 L207.66 273.04Z" fill="#ff1c1c"/><path d="M213.86 272.87 L213.6 274.35 L212.98 273.94 L213.6 276.49 L215.05 274.31 L214.34 274.49 L214.6 273.01Z" fill="#ff1c1c"/><circle cx="138" cy="279.87" r="0.41" fill="#ff1c1c"/><circle cx="144.93" cy="279.87" r="0.41" fill="#ff1c1c"/><path d="M151.8 279.81 L151.75 279.85 L151.69 279.69 L151.45 280.26 L152.03 280.05 L151.87 279.98 L151.92 279.93Z" fill="#ff1c1c"/><path d="M158.67 279.76 L158.58 279.85 L158.46 279.55 L158.06 280.63 L159.12 280.19 L158.82 280.08 L158.91 279.98Z" fill="#ff1c1c"/><path d="M165.51 279.69 L165.36 279.86 L165.12 279.36 L164.56 281.23 L166.32 280.38 L165.79 280.22 L165.93 280.05Z" fill="#ff1c1c"/><path d="M172.35 279.64 L171.89 280.26 L171.53 279.61 L170.92 282.16 L173.2 280.88 L172.48 280.71 L172.95 280.1Z" fill="#ff1c1c"/><path d="M179.27 279.66 L178.08 281.46 L177.69 280.84 L177.25 283.42 L179.44 281.99 L178.71 281.88 L179.89 280.08Z" fill="#ff1c1c"/><path d="M186.18 279.69 L184.44 282.84 L183.99 282.25 L183.75 284.86 L185.83 283.27 L185.09 283.2 L186.84 280.05Z" fill="#ff1c1c"/><path d="M193.1 279.71 L191.23 283.8 L190.74 283.25 L190.7 285.86 L192.65 284.12 L191.91 284.11 L193.78 280.03Z" fill="#ff1c1c"/><path d="M200.02 279.74 L198.43 284.16 L197.89 283.64 L198.07 286.26 L199.87 284.36 L199.13 284.41 L200.72 280Z" fill="#ff1c1c"/><path d="M206.94 279.78 L205.83 284.04 L205.25 283.58 L205.67 286.17 L207.29 284.11 L206.56 284.23 L207.66 279.96Z" fill="#ff1c1c"/><path d="M213.86 279.81 L213.22 283.79 L212.6 283.39 L213.25 285.92 L214.67 283.72 L213.96 283.91 L214.6 279.93Z" fill="#ff1c1c"/><circle cx="138" cy="286.8" r="0.41" fill="#ff1c1c"/><circle cx="144.93" cy="286.8" r="0.41" fill="#ff1c1c"/><circle cx="151.86" cy="286.8" r="0.41" fill="#ff1c1c"/><path d="M158.72 286.74 L158.68 286.8 L158.6 286.64 L158.42 287.23 L158.98 286.96 L158.81 286.91 L158.86 286.86Z" fill="#ff1c1c"/><path d="M165.6 286.71 L165.53 286.8 L165.38 286.54 L165.13 287.57 L166.06 287.06 L165.77 286.99 L165.84 286.89Z" fill="#ff1c1c"/><path d="M172.45 286.66 L172.34 286.82 L172.09 286.42 L171.78 288.08 L173.21 287.18 L172.74 287.1 L172.85 286.94Z" fill="#ff1c1c"/><path d="M179.26 286.61 L179.11 286.86 L178.7 286.27 L178.38 288.82 L180.46 287.33 L179.75 287.24 L179.9 286.99Z" fill="#ff1c1c"/><path d="M186.17 286.63 L185.59 287.79 L185.12 287.22 L184.98 289.84 L187 288.16 L186.26 288.13 L186.85 286.97Z" fill="#ff1c1c"/><path d="M193.09 286.66 L192.19 288.84 L191.68 288.3 L191.73 290.92 L193.62 289.11 L192.88 289.13 L193.79 286.94Z" fill="#ff1c1c"/><path d="M200.01 286.68 L198.98 289.82 L198.44 289.33 L198.68 291.93 L200.43 289.98 L199.7 290.05 L200.73 286.92Z" fill="#ff1c1c"/><path d="M206.94 286.71 L206.02 290.6 L205.43 290.16 L205.9 292.73 L207.47 290.64 L206.75 290.77 L207.66 286.89Z" fill="#ff1c1c"/><path d="M213.86 286.75 L213.22 291.05 L212.6 290.66 L213.29 293.18 L214.68 290.96 L213.97 291.16 L214.6 286.85Z" fill="#ff1c1c"/><circle cx="138" cy="293.73" r="0.41" fill="#ff1c1c"/><circle cx="144.93" cy="293.73" r="0.41" fill="#ff1c1c"/><circle cx="151.86" cy="293.73" r="0.41" fill="#ff1c1c"/><circle cx="158.79" cy="293.73" r="0.41" fill="#ff1c1c"/><circle cx="165.72" cy="293.73" r="0.41" fill="#ff1c1c"/><path d="M172.55 293.67 L172.49 293.75 L172.36 293.55 L172.24 294.4 L172.94 293.91 L172.7 293.88 L172.75 293.79Z" fill="#ff1c1c"/><path d="M179.42 293.64 L179.35 293.77 L179.12 293.48 L179.01 294.78 L180.04 293.98 L179.67 293.95 L179.74 293.82Z" fill="#ff1c1c"/><path d="M186.26 293.62 L186.17 293.81 L185.82 293.41 L185.78 295.31 L187.2 294.05 L186.67 294.04 L186.76 293.84Z" fill="#ff1c1c"/><path d="M193.1 293.6 L192.99 293.87 L192.48 293.37 L192.61 295.92 L194.4 294.09 L193.68 294.13 L193.78 293.86Z" fill="#ff1c1c"/><path d="M200.01 293.62 L199.76 294.46 L199.2 293.98 L199.51 296.58 L201.21 294.59 L200.48 294.68 L200.73 293.84Z" fill="#ff1c1c"/><path d="M206.93 293.65 L206.62 295.1 L206.02 294.67 L206.55 297.23 L208.08 295.11 L207.35 295.26 L207.67 293.81Z" fill="#ff1c1c"/><path d="M213.86 293.68 L213.6 295.58 L212.97 295.19 L213.69 297.71 L215.05 295.47 L214.35 295.68 L214.6 293.78Z" fill="#ff1c1c"/></svg>
<rect x="137" y="216.5" width="80.6" height="81" fill="none" stroke="#c00000" stroke-width="1.6"/>
<svg x="219.8" y="216.5" width="80.5" height="81" viewBox="228.1 170.2 20.28 20.4" preserveAspectRatio="none">
<filter id="f5" x="-50%" y="-50%" width="200%" height="200%"><feGaussianBlur stdDeviation="1.9"/></filter><rect x="235.2" y="134.6" width="50.9" height="49" rx="2.5" fill="#050505" filter="url(#f5)"/>
</svg>
<svg x="219.8" y="216.5" width="80.5" height="81" viewBox="219.8 216.5 80.5 81"><path d="M220.8 217.83 L220.66 217.83 L220.8 217.52 L219.7 218 L220.8 218.48 L220.66 218.17 L220.8 218.17Z" fill="#ff1c1c"/><path d="M229.7 217.58 L229.36 217.58 L229.7 216.82 L227.01 218 L229.7 219.18 L229.36 218.42 L229.7 218.42Z" fill="#ff1c1c"/><path d="M238.6 217.57 L235.3 217.57 L235.64 216.81 L232.92 218 L235.64 219.19 L235.3 218.43 L238.6 218.43Z" fill="#ff1c1c"/><path d="M247.5 217.57 L241.88 217.57 L242.22 216.81 L239.5 218 L242.22 219.19 L241.88 218.43 L247.5 218.43Z" fill="#ff1c1c"/><path d="M256.4 217.57 L253.11 217.57 L253.45 216.81 L250.73 218 L253.45 219.19 L253.11 218.43 L256.4 218.43Z" fill="#ff1c1c"/><path d="M265.3 217.58 L264.96 217.58 L265.3 216.83 L262.62 218 L265.3 219.17 L264.96 218.42 L265.3 218.42Z" fill="#ff1c1c"/><path d="M274.2 217.82 L274.06 217.82 L274.2 217.51 L273.08 218 L274.2 218.49 L274.06 218.18 L274.2 218.18Z" fill="#ff1c1c"/><circle cx="283.1" cy="218" r="0.47" fill="#ff1c1c"/><circle cx="292" cy="218" r="0.47" fill="#ff1c1c"/><path d="M220.8 226.73 L220.66 226.73 L220.8 226.42 L219.7 226.9 L220.8 227.38 L220.66 227.07 L220.8 227.07Z" fill="#ff1c1c"/><path d="M229.7 226.48 L229.36 226.48 L229.7 225.72 L227.01 226.9 L229.7 228.08 L229.36 227.32 L229.7 227.32Z" fill="#ff1c1c"/><path d="M238.6 226.47 L235.3 226.47 L235.64 225.71 L232.92 226.9 L235.64 228.09 L235.3 227.33 L238.6 227.33Z" fill="#ff1c1c"/><path d="M247.5 226.47 L241.88 226.47 L242.22 225.71 L239.5 226.9 L242.22 228.09 L241.88 227.33 L247.5 227.33Z" fill="#ff1c1c"/><path d="M256.4 226.47 L253.11 226.47 L253.45 225.71 L250.73 226.9 L253.45 228.09 L253.11 227.33 L256.4 227.33Z" fill="#ff1c1c"/><path d="M265.3 226.48 L264.96 226.48 L265.3 225.73 L262.62 226.9 L265.3 228.07 L264.96 227.32 L265.3 227.32Z" fill="#ff1c1c"/><path d="M274.2 226.72 L274.06 226.72 L274.2 226.41 L273.08 226.9 L274.2 227.39 L274.06 227.08 L274.2 227.08Z" fill="#ff1c1c"/><circle cx="283.1" cy="226.9" r="0.47" fill="#ff1c1c"/><circle cx="292" cy="226.9" r="0.47" fill="#ff1c1c"/><path d="M220.8 235.63 L220.66 235.63 L220.8 235.32 L219.7 235.8 L220.8 236.28 L220.66 235.97 L220.8 235.97Z" fill="#ff1c1c"/><path d="M229.7 235.38 L229.36 235.38 L229.7 234.62 L227.01 235.8 L229.7 236.98 L229.36 236.22 L229.7 236.22Z" fill="#ff1c1c"/><path d="M238.6 235.38 L235.3 235.38 L235.64 234.61 L232.92 235.8 L235.64 236.99 L235.3 236.23 L238.6 236.23Z" fill="#ff1c1c"/><path d="M247.5 235.38 L241.88 235.38 L242.22 234.61 L239.5 235.8 L242.22 236.99 L241.88 236.23 L247.5 236.23Z" fill="#ff1c1c"/><path d="M256.4 235.38 L253.11 235.38 L253.45 234.61 L250.73 235.8 L253.45 236.99 L253.11 236.23 L256.4 236.23Z" fill="#ff1c1c"/><path d="M265.3 235.38 L264.96 235.38 L265.3 234.63 L262.62 235.8 L265.3 236.97 L264.96 236.22 L265.3 236.22Z" fill="#ff1c1c"/><path d="M274.2 235.62 L274.06 235.62 L274.2 235.31 L273.08 235.8 L274.2 236.29 L274.06 235.98 L274.2 235.98Z" fill="#ff1c1c"/><circle cx="283.1" cy="235.8" r="0.47" fill="#ff1c1c"/><circle cx="292" cy="235.8" r="0.47" fill="#ff1c1c"/><path d="M220.8 244.53 L220.66 244.53 L220.8 244.22 L219.7 244.7 L220.8 245.18 L220.66 244.87 L220.8 244.87Z" fill="#ff1c1c"/><path d="M229.7 244.28 L229.36 244.28 L229.7 243.52 L227.01 244.7 L229.7 245.88 L229.36 245.12 L229.7 245.12Z" fill="#ff1c1c"/><path d="M238.6 244.28 L235.3 244.28 L235.64 243.51 L232.92 244.71 L235.65 245.89 L235.3 245.13 L238.6 245.12Z" fill="#ff1c1c"/><path d="M247.5 244.28 L241.88 244.29 L242.22 243.52 L239.5 244.72 L242.22 245.9 L241.88 245.14 L247.5 245.12Z" fill="#ff1c1c"/><path d="M256.4 244.28 L253.1 244.3 L253.44 243.53 L250.73 244.74 L253.45 245.91 L253.11 245.15 L256.4 245.12Z" fill="#ff1c1c"/><path d="M265.28 244.28 L264.94 244.3 L265.24 243.52 L262.6 244.84 L265.36 245.88 L264.98 245.14 L265.32 245.12Z" fill="#ff1c1c"/><path d="M274.02 244.58 L273.93 244.73 L273.7 244.38 L273.46 245.85 L274.7 245.02 L274.29 244.96 L274.38 244.82Z" fill="#ff1c1c"/><path d="M282.91 244.7 L282.91 244.86 L282.56 244.7 L283.1 245.94 L283.64 244.7 L283.29 244.86 L283.29 244.7Z" fill="#ff1c1c"/><path d="M291.81 244.7 L291.81 244.86 L291.46 244.7 L292 245.94 L292.54 244.7 L292.19 244.86 L292.19 244.7Z" fill="#ff1c1c"/><path d="M220.8 253.43 L220.66 253.43 L220.8 253.12 L219.7 253.61 L220.8 254.08 L220.66 253.77 L220.8 253.77Z" fill="#ff1c1c"/><path d="M229.69 253.18 L229.36 253.19 L229.68 252.43 L227.02 253.64 L229.72 254.77 L229.37 254.02 L229.71 254.02Z" fill="#ff1c1c"/><path d="M238.59 253.18 L235.32 253.25 L235.64 252.48 L232.95 253.73 L235.7 254.86 L235.34 254.1 L238.61 254.02Z" fill="#ff1c1c"/><path d="M247.48 253.18 L241.87 253.45 L242.17 252.67 L239.51 253.99 L242.28 255.04 L241.91 254.3 L247.52 254.02Z" fill="#ff1c1c"/><path d="M256.33 253.18 L252.91 253.74 L253.12 252.93 L250.63 254.54 L253.5 255.27 L253.04 254.57 L256.47 254.02Z" fill="#ff1c1c"/><path d="M264.96 253.35 L264.34 254.18 L263.93 253.45 L263.26 256.34 L265.84 254.87 L265.02 254.69 L265.64 253.85Z" fill="#ff1c1c"/><path d="M273.78 253.59 L273.76 254.16 L273 253.8 L274.13 256.55 L275.38 253.86 L274.61 254.18 L274.62 253.61Z" fill="#ff1c1c"/><path d="M282.68 253.6 L282.68 254.16 L281.91 253.82 L283.1 256.54 L284.29 253.82 L283.53 254.16 L283.53 253.6Z" fill="#ff1c1c"/><path d="M291.57 253.6 L291.57 254.16 L290.81 253.82 L292 256.54 L293.19 253.82 L292.43 254.16 L292.43 253.6Z" fill="#ff1c1c"/><path d="M220.79 262.33 L220.66 262.34 L220.77 262.04 L219.74 262.56 L220.83 262.96 L220.68 262.67 L220.81 262.67Z" fill="#ff1c1c"/><path d="M229.66 262.1 L229.34 262.14 L229.58 261.38 L227.15 262.77 L229.82 263.62 L229.42 262.93 L229.74 262.9Z" fill="#ff1c1c"/><path d="M238.53 262.08 L235.58 262.59 L235.79 261.78 L233.31 263.42 L236.19 264.12 L235.73 263.43 L238.67 262.92Z" fill="#ff1c1c"/><path d="M247.36 262.1 L242.14 263.95 L242.21 263.11 L240.04 265.15 L243 265.36 L242.43 264.75 L247.64 262.9Z" fill="#ff1c1c"/><path d="M256.08 262.23 L253.02 265.84 L252.66 265.09 L251.81 267.94 L254.48 266.63 L253.67 266.39 L256.72 262.77Z" fill="#ff1c1c"/><path d="M264.88 262.46 L264.49 266.22 L263.77 265.81 L264.68 268.63 L266.13 266.05 L265.34 266.31 L265.72 262.54Z" fill="#ff1c1c"/><path d="M273.78 262.5 L273.76 266.18 L273 265.84 L274.18 268.56 L275.38 265.84 L274.61 266.18 L274.62 262.5Z" fill="#ff1c1c"/><path d="M282.68 262.5 L282.68 266.18 L281.91 265.84 L283.1 268.56 L284.29 265.84 L283.53 266.18 L283.53 262.5Z" fill="#ff1c1c"/><path d="M291.57 262.5 L291.57 266.18 L290.81 265.84 L292 268.56 L293.19 265.84 L292.43 266.18 L292.43 262.5Z" fill="#ff1c1c"/><path d="M220.77 271.26 L220.66 271.28 L220.72 271 L219.88 271.57 L220.88 271.8 L220.71 271.57 L220.83 271.54Z" fill="#ff1c1c"/><path d="M229.59 271.08 L229.34 271.16 L229.4 270.5 L227.64 272.08 L230 272.3 L229.55 271.81 L229.81 271.72Z" fill="#ff1c1c"/><path d="M238.4 271.03 L236.66 271.96 L236.59 271.13 L234.76 273.47 L237.72 273.22 L237.06 272.71 L238.8 271.77Z" fill="#ff1c1c"/><path d="M247.19 271.11 L244.2 274.4 L243.87 273.64 L242.92 276.45 L245.63 275.23 L244.83 274.97 L247.81 271.69Z" fill="#ff1c1c"/><path d="M255.99 271.29 L254.56 276.55 L253.91 276.02 L254.35 278.96 L256.21 276.64 L255.38 276.77 L256.81 271.51Z" fill="#ff1c1c"/><path d="M264.88 271.39 L264.69 276.96 L263.94 276.59 L265.04 279.35 L266.32 276.67 L265.54 276.99 L265.72 271.41Z" fill="#ff1c1c"/><path d="M273.78 271.4 L273.77 276.98 L273 276.64 L274.19 279.36 L275.38 276.64 L274.62 276.98 L274.62 271.4Z" fill="#ff1c1c"/><path d="M282.68 271.4 L282.68 276.98 L281.91 276.64 L283.1 279.36 L284.29 276.64 L283.53 276.98 L283.53 271.4Z" fill="#ff1c1c"/><path d="M291.57 271.4 L291.57 276.98 L290.81 276.64 L292 279.36 L293.19 276.64 L292.43 276.98 L292.43 271.4Z" fill="#ff1c1c"/><path d="M220.76 280.2 L220.68 280.23 L220.69 280.01 L220.14 280.55 L220.91 280.59 L220.76 280.43 L220.84 280.4Z" fill="#ff1c1c"/><path d="M229.57 280.1 L229.41 280.21 L229.34 279.75 L228.44 281.13 L230.06 280.85 L229.67 280.6 L229.83 280.5Z" fill="#ff1c1c"/><path d="M238.29 280.01 L238.01 280.31 L237.69 279.53 L236.69 282.33 L239.42 281.16 L238.63 280.89 L238.91 280.59Z" fill="#ff1c1c"/><path d="M247.11 280.12 L246.35 281.79 L245.8 281.16 L245.74 284.13 L247.96 282.15 L247.12 282.14 L247.89 280.48Z" fill="#ff1c1c"/><path d="M255.98 280.24 L255.61 282.89 L254.9 282.45 L255.71 285.31 L257.26 282.78 L256.46 283.01 L256.82 280.36Z" fill="#ff1c1c"/><path d="M264.88 280.29 L264.83 283.18 L264.07 282.83 L265.21 285.57 L266.45 282.87 L265.68 283.2 L265.72 280.31Z" fill="#ff1c1c"/><path d="M273.78 280.3 L273.77 283.21 L273.01 282.87 L274.2 285.59 L275.39 282.87 L274.62 283.21 L274.62 280.3Z" fill="#ff1c1c"/><path d="M282.68 280.3 L282.68 283.21 L281.91 282.87 L283.1 285.59 L284.29 282.87 L283.53 283.21 L283.53 280.3Z" fill="#ff1c1c"/><path d="M291.57 280.3 L291.57 283.21 L290.81 282.87 L292 285.59 L293.19 282.87 L292.43 283.21 L292.43 280.3Z" fill="#ff1c1c"/><circle cx="220.8" cy="289.2" r="0.47" fill="#ff1c1c"/><path d="M229.6 289.1 L229.52 289.18 L229.42 288.93 L229.09 289.84 L229.98 289.47 L229.72 289.38 L229.8 289.3Z" fill="#ff1c1c"/><path d="M238.4 289.08 L238.31 289.24 L238.05 288.87 L237.85 290.47 L239.15 289.53 L238.7 289.47 L238.8 289.32Z" fill="#ff1c1c"/><path d="M247.19 289.11 L247.12 289.36 L246.64 288.95 L246.93 291.16 L248.36 289.45 L247.74 289.53 L247.81 289.29Z" fill="#ff1c1c"/><path d="M256.03 289.17 L256.01 289.46 L255.37 289.11 L256.2 291.55 L257.43 289.29 L256.74 289.53 L256.77 289.23Z" fill="#ff1c1c"/><path d="M264.92 289.2 L264.92 289.5 L264.23 289.19 L265.27 291.64 L266.37 289.21 L265.68 289.51 L265.68 289.2Z" fill="#ff1c1c"/><path d="M273.82 289.2 L273.82 289.51 L273.13 289.2 L274.2 291.65 L275.27 289.2 L274.58 289.51 L274.58 289.2Z" fill="#ff1c1c"/><path d="M282.72 289.2 L282.72 289.51 L282.03 289.2 L283.1 291.65 L284.17 289.2 L283.48 289.51 L283.48 289.2Z" fill="#ff1c1c"/><path d="M291.62 289.2 L291.62 289.51 L290.93 289.2 L292 291.65 L293.07 289.2 L292.38 289.51 L292.38 289.2Z" fill="#ff1c1c"/></svg>
<rect x="219.8" y="216.5" width="80.5" height="81" fill="none" stroke="#c00000" stroke-width="1.6"/>
<circle cx="94.65" cy="355.25" r="27.3" fill="none" stroke="#f79c9c" stroke-width="4.8" filter="url(#bc)"/>
<circle cx="177.3" cy="355.25" r="27.8" fill="none" stroke="#f79c9c" stroke-width="4.4" filter="url(#bc)"/>
<circle cx="177.3" cy="355.25" r="13.5" fill="none" stroke="#3434ff" stroke-width="5.4" filter="url(#bc2)"/>
<ellipse cx="234.8" cy="329.9" rx="5.0" ry="4.0" fill="#ff0808" transform="rotate(-45 234.8 329.9)" filter="url(#b1)"/>
<ellipse cx="284.5" cy="329.9" rx="5.0" ry="4.0" fill="#ff0808" transform="rotate(45 284.5 329.9)" filter="url(#b1)"/>
<ellipse cx="234.8" cy="379.0" rx="5.0" ry="4.0" fill="#ff0808" transform="rotate(45 234.8 379.0)" filter="url(#b1)"/>
<ellipse cx="284.5" cy="379.0" rx="5.0" ry="4.0" fill="#ff0808" transform="rotate(-45 284.5 379.0)" filter="url(#b1)"/>
<rect x="54.3" y="315.4" width="80.7" height="79.7" fill="none" stroke="#555" stroke-width="1"/>
<rect x="137" y="315.4" width="80.6" height="79.7" fill="none" stroke="#555" stroke-width="1"/>
<rect x="219.8" y="315.4" width="80.5" height="79.7" fill="none" stroke="#555" stroke-width="1"/>
<rect x="302.9" y="315.4" width="4" height="79.7" fill="url(#cbar)"/>
<text x="307.6" y="323" font-size="8.7" text-anchor="start" font-family="Liberation Sans, Arial, sans-serif" fill="#111" >0.002</text>
<text x="307.9" y="394.2" font-size="8.7" text-anchor="start" font-family="Liberation Sans, Arial, sans-serif" fill="#111" >-0.002</text>
<text x="54.9" y="406.2" font-size="13.3" fill="#111"><tspan font-family="Liberation Serif, DejaVu Serif, serif" font-style="italic" font-size="13.6">n</tspan><tspan font-family="Liberation Sans, Arial, sans-serif">: 1 (0.999)</tspan></text>
<text x="137.6" y="406.2" font-size="13.3" fill="#111"><tspan font-family="Liberation Serif, DejaVu Serif, serif" font-style="italic" font-size="13.6">n</tspan><tspan font-family="Liberation Sans, Arial, sans-serif">: 0 (0.000)</tspan></text>
<text x="220.4" y="406.2" font-size="13.3" fill="#111"><tspan font-family="Liberation Serif, DejaVu Serif, serif" font-style="italic" font-size="13.6">n</tspan><tspan font-family="Liberation Sans, Arial, sans-serif">: 1 (0.999)</tspan></text>
<svg x="351.1" y="2" width="76.5" height="76.3" viewBox="351.1 2 76.5 76.3">
<filter id="fd0" x="-50%" y="-50%" width="200%" height="200%"><feGaussianBlur stdDeviation="3.0"/></filter>
<rect x="364.05" y="13.85" width="50.6" height="51.4" rx="7" fill="#050505" filter="url(#fd0)"/>
<mask id="md0" maskUnits="userSpaceOnUse" x="351.1" y="2" width="77" height="77"><g filter="url(#bh)"><rect x="361.05" y="10.85" width="56.6" height="57.4" rx="10" fill="none" stroke="#fff" stroke-width="10"/></g></mask>
<g mask="url(#md0)"><rect x="351.1" y="2" width="77" height="77" fill="url(#dotsd)" opacity="0.3"/><rect x="351.1" y="2" width="77" height="77" fill="#ff6060" opacity="0.06"/></g>
</svg>
<rect x="351.1" y="2" width="76.5" height="76.3" fill="none" stroke="#555" stroke-width="1"/>
<svg x="430.1" y="2" width="76.6" height="76.3" viewBox="430.1 2 76.6 76.3">
<filter id="fd1" x="-50%" y="-50%" width="200%" height="200%"><feGaussianBlur stdDeviation="2.9"/></filter>
<rect x="443.1" y="13.85" width="50.6" height="51.4" rx="5.5" fill="#050505" filter="url(#fd1)"/>
<mask id="md1" maskUnits="userSpaceOnUse" x="430.1" y="2" width="77" height="77"><g filter="url(#bh)"><rect x="440.1" y="10.85" width="56.6" height="57.4" rx="8.5" fill="none" stroke="#fff" stroke-width="10"/></g></mask>
<g mask="url(#md1)"><rect x="430.1" y="2" width="77" height="77" fill="url(#dotsd)" opacity="0.3"/><rect x="430.1" y="2" width="77" height="77" fill="#ff6060" opacity="0.06"/></g>
</svg>
<rect x="430.1" y="2" width="76.6" height="76.3" fill="none" stroke="#555" stroke-width="1"/>
<svg x="509.4" y="2" width="77.1" height="76.3" viewBox="509.4 2 77.1 76.3">
<filter id="fd2" x="-50%" y="-50%" width="200%" height="200%"><feGaussianBlur stdDeviation="2.8"/></filter>
<rect x="522.65" y="13.85" width="50.6" height="51.4" rx="4" fill="#050505" filter="url(#fd2)"/>
<mask id="md2" maskUnits="userSpaceOnUse" x="509.4" y="2" width="77" height="77"><g filter="url(#bh)"><rect x="519.65" y="10.85" width="56.6" height="57.4" rx="7" fill="none" stroke="#fff" stroke-width="10"/></g></mask>
<g mask="url(#md2)"><rect x="509.4" y="2" width="77" height="77" fill="url(#dotsd)" opacity="0.3"/><rect x="509.4" y="2" width="77" height="77" fill="#ff6060" opacity="0.06"/></g>
</svg>
<rect x="509.4" y="2" width="77.1" height="76.3" fill="none" stroke="#555" stroke-width="1"/>
<svg x="588.8" y="2" width="76.8" height="76.3" viewBox="588.8 2 76.8 76.3">
<filter id="fd3" x="-50%" y="-50%" width="200%" height="200%"><feGaussianBlur stdDeviation="2.7"/></filter>
<rect x="601.9" y="13.85" width="50.6" height="51.4" rx="3" fill="#050505" filter="url(#fd3)"/>
<mask id="md3" maskUnits="userSpaceOnUse" x="588.8" y="2" width="77" height="77"><g filter="url(#bh)"><rect x="598.9" y="10.85" width="56.6" height="57.4" rx="6" fill="none" stroke="#fff" stroke-width="10"/></g></mask>
<g mask="url(#md3)"><rect x="588.8" y="2" width="77" height="77" fill="url(#dotsd)" opacity="0.3"/><rect x="588.8" y="2" width="77" height="77" fill="#ff6060" opacity="0.06"/></g>
</svg>
<rect x="588.8" y="2" width="76.8" height="76.3" fill="none" stroke="#555" stroke-width="1"/>
<text x="348.8" y="14.5" font-size="14" text-anchor="end" font-family="Liberation Sans, Arial, sans-serif" fill="#111" >(d)</text>
<text x="351.2" y="91.3" font-size="12.5" fill="#111"><tspan font-family="Liberation Serif, DejaVu Serif, serif" font-style="italic" font-size="13.2">α, β</tspan><tspan font-family="Liberation Serif, DejaVu Serif, serif" font-size="16" dx="3.5">=</tspan><tspan font-family="Liberation Sans, Arial, sans-serif" dx="2.6">0.0001</tspan></text>
<text x="470.5" y="91.3" font-size="12.5" text-anchor="middle" font-family="Liberation Sans, Arial, sans-serif" fill="#111" >0.001</text>
<text x="549.4" y="91.3" font-size="12.5" text-anchor="middle" font-family="Liberation Sans, Arial, sans-serif" fill="#111" >0.01</text>
<text x="627" y="91.3" font-size="12.5" text-anchor="middle" font-family="Liberation Sans, Arial, sans-serif" fill="#111" >0.1</text>
<rect x="350" y="105.4" width="317.7" height="110.4" fill="#fff"/>
<path d="M346.5 210.3H350M346.5 110.2H350M364.6 215.8v3.5M653.4 215.8v3.5" stroke="#222" stroke-width="0.9" fill="none"/>
<polyline fill="none" stroke="#111" stroke-width="1.5" points="364.6,210.3 370.38,127.62 376.15,114.6 381.93,111.7 387.7,110.9 393.48,110.6 399.26,110.4 405.03,110.4 410.81,110.4 416.58,110.4 422.36,110.4 428.14,110.4 433.91,110.4 439.69,110.4 445.46,110.4 451.24,110.4 457.02,110.4 462.79,110.4 468.57,110.4 474.34,110.4 480.12,110.4 485.9,110.4 491.67,110.4 497.45,110.4 503.22,110.4 509,110.4 514.78,110.4 520.55,110.4 526.33,110.4 532.1,110.4 537.88,110.4 543.66,110.4 549.43,110.4 555.21,110.4 560.98,110.4 566.76,110.4 572.54,110.4 578.31,110.4 584.09,110.4 589.86,110.4 595.64,110.4 601.42,110.4 607.19,110.4 612.97,110.4 618.74,110.4 624.52,110.4 630.3,110.4 636.07,110.4 641.85,110.4 647.62,110.4 653.4,110.4"/>
<circle cx="370.38" cy="127.62" r="3.1" fill="#0a0a0a"/><circle cx="376.15" cy="114.6" r="3.1" fill="#0a0a0a"/><circle cx="381.93" cy="111.7" r="3.1" fill="#0a0a0a"/><circle cx="387.7" cy="110.9" r="3.1" fill="#0a0a0a"/><circle cx="393.48" cy="110.6" r="3.1" fill="#0a0a0a"/><circle cx="399.26" cy="110.4" r="3.1" fill="#0a0a0a"/><circle cx="405.03" cy="110.4" r="3.1" fill="#0a0a0a"/><circle cx="410.81" cy="110.4" r="3.1" fill="#0a0a0a"/><circle cx="416.58" cy="110.4" r="3.1" fill="#0a0a0a"/><circle cx="422.36" cy="110.4" r="3.1" fill="#0a0a0a"/><circle cx="428.14" cy="110.4" r="3.1" fill="#0a0a0a"/><circle cx="433.91" cy="110.4" r="3.1" fill="#0a0a0a"/><circle cx="439.69" cy="110.4" r="3.1" fill="#0a0a0a"/><circle cx="445.46" cy="110.4" r="3.1" fill="#0a0a0a"/><circle cx="451.24" cy="110.4" r="3.1" fill="#0a0a0a"/><circle cx="457.02" cy="110.4" r="3.1" fill="#0a0a0a"/><circle cx="462.79" cy="110.4" r="3.1" fill="#0a0a0a"/><circle cx="468.57" cy="110.4" r="3.1" fill="#0a0a0a"/><circle cx="474.34" cy="110.4" r="3.1" fill="#0a0a0a"/><circle cx="480.12" cy="110.4" r="3.1" fill="#0a0a0a"/><circle cx="485.9" cy="110.4" r="3.1" fill="#0a0a0a"/><circle cx="491.67" cy="110.4" r="3.1" fill="#0a0a0a"/><circle cx="497.45" cy="110.4" r="3.1" fill="#0a0a0a"/><circle cx="503.22" cy="110.4" r="3.1" fill="#0a0a0a"/><circle cx="509" cy="110.4" r="3.1" fill="#0a0a0a"/><circle cx="514.78" cy="110.4" r="3.1" fill="#0a0a0a"/><circle cx="520.55" cy="110.4" r="3.1" fill="#0a0a0a"/><circle cx="526.33" cy="110.4" r="3.1" fill="#0a0a0a"/><circle cx="532.1" cy="110.4" r="3.1" fill="#0a0a0a"/><circle cx="537.88" cy="110.4" r="3.1" fill="#0a0a0a"/><circle cx="543.66" cy="110.4" r="3.1" fill="#0a0a0a"/><circle cx="549.43" cy="110.4" r="3.1" fill="#0a0a0a"/><circle cx="555.21" cy="110.4" r="3.1" fill="#0a0a0a"/><circle cx="560.98" cy="110.4" r="3.1" fill="#0a0a0a"/><circle cx="566.76" cy="110.4" r="3.1" fill="#0a0a0a"/><circle cx="572.54" cy="110.4" r="3.1" fill="#0a0a0a"/><circle cx="578.31" cy="110.4" r="3.1" fill="#0a0a0a"/><circle cx="584.09" cy="110.4" r="3.1" fill="#0a0a0a"/><circle cx="589.86" cy="110.4" r="3.1" fill="#0a0a0a"/><circle cx="595.64" cy="110.4" r="3.1" fill="#0a0a0a"/><circle cx="601.42" cy="110.4" r="3.1" fill="#0a0a0a"/><circle cx="607.19" cy="110.4" r="3.1" fill="#0a0a0a"/><circle cx="612.97" cy="110.4" r="3.1" fill="#0a0a0a"/><circle cx="618.74" cy="110.4" r="3.1" fill="#0a0a0a"/><circle cx="624.52" cy="110.4" r="3.1" fill="#0a0a0a"/><circle cx="630.3" cy="110.4" r="3.1" fill="#0a0a0a"/><circle cx="636.07" cy="110.4" r="3.1" fill="#0a0a0a"/><circle cx="641.85" cy="110.4" r="3.1" fill="#0a0a0a"/><circle cx="647.62" cy="110.4" r="3.1" fill="#0a0a0a"/><circle cx="653.4" cy="110.4" r="3.1" fill="#0a0a0a"/>
<circle cx="364.6" cy="210.3" r="2.5" fill="#fff" stroke="#222" stroke-width="1.0"/><circle cx="370.38" cy="209.9" r="2.5" fill="#fff" stroke="#222" stroke-width="1.0"/><circle cx="376.15" cy="211.1" r="2.5" fill="#fff" stroke="#222" stroke-width="1.0"/><circle cx="381.93" cy="210.9" r="2.5" fill="#fff" stroke="#222" stroke-width="1.0"/><circle cx="387.7" cy="210.5" r="2.5" fill="#fff" stroke="#222" stroke-width="1.0"/><circle cx="393.48" cy="210.2" r="2.5" fill="#fff" stroke="#222" stroke-width="1.0"/><circle cx="399.26" cy="210.2" r="2.5" fill="#fff" stroke="#222" stroke-width="1.0"/><circle cx="405.03" cy="210.2" r="2.5" fill="#fff" stroke="#222" stroke-width="1.0"/><circle cx="410.81" cy="210.2" r="2.5" fill="#fff" stroke="#222" stroke-width="1.0"/><circle cx="416.58" cy="210.2" r="2.5" fill="#fff" stroke="#222" stroke-width="1.0"/><circle cx="422.36" cy="210.2" r="2.5" fill="#fff" stroke="#222" stroke-width="1.0"/><circle cx="428.14" cy="210.2" r="2.5" fill="#fff" stroke="#222" stroke-width="1.0"/><circle cx="433.91" cy="210.2" r="2.5" fill="#fff" stroke="#222" stroke-width="1.0"/><circle cx="439.69" cy="210.2" r="2.5" fill="#fff" stroke="#222" stroke-width="1.0"/><circle cx="445.46" cy="210.2" r="2.5" fill="#fff" stroke="#222" stroke-width="1.0"/><circle cx="451.24" cy="210.2" r="2.5" fill="#fff" stroke="#222" stroke-width="1.0"/><circle cx="457.02" cy="210.2" r="2.5" fill="#fff" stroke="#222" stroke-width="1.0"/><circle cx="462.79" cy="210.2" r="2.5" fill="#fff" stroke="#222" stroke-width="1.0"/><circle cx="468.57" cy="210.2" r="2.5" fill="#fff" stroke="#222" stroke-width="1.0"/><circle cx="474.34" cy="210.2" r="2.5" fill="#fff" stroke="#222" stroke-width="1.0"/><circle cx="480.12" cy="210.2" r="2.5" fill="#fff" stroke="#222" stroke-width="1.0"/><circle cx="485.9" cy="210.2" r="2.5" fill="#fff" stroke="#222" stroke-width="1.0"/><circle cx="491.67" cy="210.2" r="2.5" fill="#fff" stroke="#222" stroke-width="1.0"/><circle cx="497.45" cy="210.2" r="2.5" fill="#fff" stroke="#222" stroke-width="1.0"/><circle cx="503.22" cy="210.2" r="2.5" fill="#fff" stroke="#222" stroke-width="1.0"/><circle cx="509" cy="210.2" r="2.5" fill="#fff" stroke="#222" stroke-width="1.0"/><circle cx="514.78" cy="210.2" r="2.5" fill="#fff" stroke="#222" stroke-width="1.0"/><circle cx="520.55" cy="210.2" r="2.5" fill="#fff" stroke="#222" stroke-width="1.0"/><circle cx="526.33" cy="210.2" r="2.5" fill="#fff" stroke="#222" stroke-width="1.0"/><circle cx="532.1" cy="210.2" r="2.5" fill="#fff" stroke="#222" stroke-width="1.0"/><circle cx="537.88" cy="210.2" r="2.5" fill="#fff" stroke="#222" stroke-width="1.0"/><circle cx="543.66" cy="210.2" r="2.5" fill="#fff" stroke="#222" stroke-width="1.0"/><circle cx="549.43" cy="210.2" r="2.5" fill="#fff" stroke="#222" stroke-width="1.0"/><circle cx="555.21" cy="210.2" r="2.5" fill="#fff" stroke="#222" stroke-width="1.0"/><circle cx="560.98" cy="210.2" r="2.5" fill="#fff" stroke="#222" stroke-width="1.0"/><circle cx="566.76" cy="210.2" r="2.5" fill="#fff" stroke="#222" stroke-width="1.0"/><circle cx="572.54" cy="210.2" r="2.5" fill="#fff" stroke="#222" stroke-width="1.0"/><circle cx="578.31" cy="210.2" r="2.5" fill="#fff" stroke="#222" stroke-width="1.0"/><circle cx="584.09" cy="210.2" r="2.5" fill="#fff" stroke="#222" stroke-width="1.0"/><circle cx="589.86" cy="210.2" r="2.5" fill="#fff" stroke="#222" stroke-width="1.0"/><circle cx="595.64" cy="210.2" r="2.5" fill="#fff" stroke="#222" stroke-width="1.0"/><circle cx="601.42" cy="210.2" r="2.5" fill="#fff" stroke="#222" stroke-width="1.0"/><circle cx="607.19" cy="210.2" r="2.5" fill="#fff" stroke="#222" stroke-width="1.0"/><circle cx="612.97" cy="210.2" r="2.5" fill="#fff" stroke="#222" stroke-width="1.0"/><circle cx="618.74" cy="210.2" r="2.5" fill="#fff" stroke="#222" stroke-width="1.0"/><circle cx="624.52" cy="210.2" r="2.5" fill="#fff" stroke="#222" stroke-width="1.0"/><circle cx="630.3" cy="210.2" r="2.5" fill="#fff" stroke="#222" stroke-width="1.0"/><circle cx="636.07" cy="210.2" r="2.5" fill="#fff" stroke="#222" stroke-width="1.0"/><circle cx="641.85" cy="210.2" r="2.5" fill="#fff" stroke="#222" stroke-width="1.0"/><circle cx="647.62" cy="210.2" r="2.5" fill="#fff" stroke="#222" stroke-width="1.0"/><circle cx="653.4" cy="210.2" r="2.5" fill="#fff" stroke="#222" stroke-width="1.0"/>
<circle cx="364.6" cy="210.3" r="2.6" fill="#fff" stroke="#f06060" stroke-width="1"/>
<path d="M362.3 208l4.6 4.6M362.3 212.6l4.6 -4.6M368.08 125.32l4.6 4.6M368.08 129.92l4.6 -4.6M373.85 112.3l4.6 4.6M373.85 116.9l4.6 -4.6M379.63 109.4l4.6 4.6M379.63 114l4.6 -4.6M385.4 108.6l4.6 4.6M385.4 113.2l4.6 -4.6M391.18 108.3l4.6 4.6M391.18 112.9l4.6 -4.6M396.96 108.1l4.6 4.6M396.96 112.7l4.6 -4.6M402.73 108.1l4.6 4.6M402.73 112.7l4.6 -4.6M408.51 108.1l4.6 4.6M408.51 112.7l4.6 -4.6M414.28 108.1l4.6 4.6M414.28 112.7l4.6 -4.6M420.06 108.1l4.6 4.6M420.06 112.7l4.6 -4.6M425.84 108.1l4.6 4.6M425.84 112.7l4.6 -4.6M431.61 108.1l4.6 4.6M431.61 112.7l4.6 -4.6M437.39 108.1l4.6 4.6M437.39 112.7l4.6 -4.6M443.16 108.1l4.6 4.6M443.16 112.7l4.6 -4.6M448.94 108.1l4.6 4.6M448.94 112.7l4.6 -4.6M454.72 108.1l4.6 4.6M454.72 112.7l4.6 -4.6M460.49 108.1l4.6 4.6M460.49 112.7l4.6 -4.6M466.27 108.1l4.6 4.6M466.27 112.7l4.6 -4.6M472.04 108.1l4.6 4.6M472.04 112.7l4.6 -4.6M477.82 108.1l4.6 4.6M477.82 112.7l4.6 -4.6M483.6 108.1l4.6 4.6M483.6 112.7l4.6 -4.6M489.37 108.1l4.6 4.6M489.37 112.7l4.6 -4.6M495.15 108.1l4.6 4.6M495.15 112.7l4.6 -4.6M500.92 108.1l4.6 4.6M500.92 112.7l4.6 -4.6M506.7 108.1l4.6 4.6M506.7 112.7l4.6 -4.6M512.48 108.1l4.6 4.6M512.48 112.7l4.6 -4.6M518.25 108.1l4.6 4.6M518.25 112.7l4.6 -4.6M524.03 108.1l4.6 4.6M524.03 112.7l4.6 -4.6M529.8 108.1l4.6 4.6M529.8 112.7l4.6 -4.6M535.58 108.1l4.6 4.6M535.58 112.7l4.6 -4.6M541.36 108.1l4.6 4.6M541.36 112.7l4.6 -4.6M547.13 108.1l4.6 4.6M547.13 112.7l4.6 -4.6M552.91 108.1l4.6 4.6M552.91 112.7l4.6 -4.6M558.68 108.1l4.6 4.6M558.68 112.7l4.6 -4.6M564.46 108.1l4.6 4.6M564.46 112.7l4.6 -4.6M570.24 108.1l4.6 4.6M570.24 112.7l4.6 -4.6M576.01 108.1l4.6 4.6M576.01 112.7l4.6 -4.6M581.79 108.1l4.6 4.6M581.79 112.7l4.6 -4.6M587.56 108.1l4.6 4.6M587.56 112.7l4.6 -4.6M593.34 108.1l4.6 4.6M593.34 112.7l4.6 -4.6M599.12 108.1l4.6 4.6M599.12 112.7l4.6 -4.6M604.89 108.1l4.6 4.6M604.89 112.7l4.6 -4.6M610.67 108.1l4.6 4.6M610.67 112.7l4.6 -4.6M616.44 108.1l4.6 4.6M616.44 112.7l4.6 -4.6M622.22 108.1l4.6 4.6M622.22 112.7l4.6 -4.6M628 108.1l4.6 4.6M628 112.7l4.6 -4.6M633.77 108.1l4.6 4.6M633.77 112.7l4.6 -4.6M639.55 108.1l4.6 4.6M639.55 112.7l4.6 -4.6M645.32 108.1l4.6 4.6M645.32 112.7l4.6 -4.6M651.1 108.1l4.6 4.6M651.1 112.7l4.6 -4.6" stroke="#ff1010" stroke-width="1.35" fill="none"/>
<rect x="350" y="105.4" width="317.7" height="110.4" fill="none" stroke="#333" stroke-width="1"/>
<circle cx="575.7" cy="124.4" r="3" fill="#0a0a0a"/>
<circle cx="575.7" cy="145.5" r="2.5" fill="#fff" stroke="#222" stroke-width="1.0"/>
<path d="M573.5 164.4l4.4 4.4M573.5 168.8l4.4 -4.4" stroke="#ff1010" stroke-width="1.1"/>
<text x="600.4" y="128.3" font-size="13.5" text-anchor="start" font-family="DejaVu Sans, Liberation Sans, sans-serif" fill="#111" >Disk</text>
<text x="600.4" y="149.3" font-size="13.5" text-anchor="start" font-family="DejaVu Sans, Liberation Sans, sans-serif" fill="#111" >Annulus</text>
<text x="600.4" y="170.6" font-size="13.5" text-anchor="start" font-family="DejaVu Sans, Liberation Sans, sans-serif" fill="#111" >Square</text>
<text x="343.4" y="115.8" font-size="15.4" text-anchor="end" font-family="DejaVu Sans, Liberation Sans, sans-serif" fill="#111" >1</text>
<text x="343.4" y="215.9" font-size="15.4" text-anchor="end" font-family="DejaVu Sans, Liberation Sans, sans-serif" fill="#111" >0</text>
<text x="364.6" y="233.8" font-size="15.4" text-anchor="middle" font-family="DejaVu Sans, Liberation Sans, sans-serif" fill="#111" >0</text>
<text x="653.4" y="233.8" font-size="15.4" text-anchor="middle" font-family="DejaVu Sans, Liberation Sans, sans-serif" fill="#111" >50</text>
<text x="506" y="232.8" font-size="16.4" text-anchor="middle" font-family="Liberation Sans, Arial, sans-serif" fill="#111" >Iteration</text>
<text transform="translate(345.2 162.2) rotate(-90)" font-size="16.6" text-anchor="middle" font-family="Liberation Sans, Arial, sans-serif" fill="#111">Result</text>
<text x="334.6" y="119.5" font-size="14" text-anchor="end" font-family="Liberation Sans, Arial, sans-serif" fill="#111" >(e)</text>
<rect x="369.1" y="242.2" width="72.6" height="71.9" fill="#fff"/>
<g shape-rendering="crispEdges"><rect x="406.1" y="267.5" width="5.5" height="5.5" fill="#ececec"/><rect x="411.55" y="267.5" width="5.5" height="5.5" fill="#dfdfdf"/><rect x="417" y="267.5" width="5.5" height="5.5" fill="#dfdfdf"/><rect x="422.45" y="267.5" width="5.5" height="5.5" fill="#dfdfdf"/><rect x="427.9" y="267.5" width="5.5" height="5.5" fill="#dfdfdf"/><rect x="433.35" y="267.5" width="5.5" height="5.5" fill="#dfdfdf"/><rect x="438.8" y="267.5" width="2.95" height="5.5" fill="#dfdfdf"/><rect x="400.65" y="272.95" width="5.5" height="5.5" fill="#c7c7c7"/><rect x="406.1" y="272.95" width="5.5" height="5.5" fill="#6b6b6b"/><rect x="411.55" y="272.95" width="5.5" height="5.5" fill="#4b4b4b"/><rect x="417" y="272.95" width="5.5" height="5.5" fill="#4b4b4b"/><rect x="422.45" y="272.95" width="5.5" height="5.5" fill="#4b4b4b"/><rect x="427.9" y="272.95" width="5.5" height="5.5" fill="#4b4b4b"/><rect x="433.35" y="272.95" width="5.5" height="5.5" fill="#4b4b4b"/><rect x="438.8" y="272.95" width="2.95" height="5.5" fill="#4b4b4b"/><rect x="395.2" y="278.4" width="5.5" height="5.5" fill="#eeeeee"/><rect x="400.65" y="278.4" width="5.5" height="5.5" fill="#6e6e6e"/><rect x="406.1" y="278.4" width="5.5" height="5.5" fill="#0b0b0b"/><rect x="411.55" y="278.4" width="5.5" height="5.5" fill="#050505"/><rect x="417" y="278.4" width="5.5" height="5.5" fill="#050505"/><rect x="422.45" y="278.4" width="5.5" height="5.5" fill="#050505"/><rect x="427.9" y="278.4" width="5.5" height="5.5" fill="#050505"/><rect x="433.35" y="278.4" width="5.5" height="5.5" fill="#050505"/><rect x="438.8" y="278.4" width="2.95" height="5.5" fill="#050505"/><rect x="395.2" y="283.85" width="5.5" height="5.5" fill="#e3e3e3"/><rect x="400.65" y="283.85" width="5.5" height="5.5" fill="#515151"/><rect x="406.1" y="283.85" width="5.5" height="5.5" fill="#050505"/><rect x="411.55" y="283.85" width="5.5" height="5.5" fill="#050505"/><rect x="417" y="283.85" width="5.5" height="5.5" fill="#050505"/><rect x="422.45" y="283.85" width="5.5" height="5.5" fill="#050505"/><rect x="427.9" y="283.85" width="5.5" height="5.5" fill="#050505"/><rect x="433.35" y="283.85" width="5.5" height="5.5" fill="#050505"/><rect x="438.8" y="283.85" width="2.95" height="5.5" fill="#050505"/><rect x="395.2" y="289.3" width="5.5" height="5.5" fill="#e3e3e3"/><rect x="400.65" y="289.3" width="5.5" height="5.5" fill="#515151"/><rect x="406.1" y="289.3" width="5.5" height="5.5" fill="#050505"/><rect x="411.55" y="289.3" width="5.5" height="5.5" fill="#050505"/><rect x="417" y="289.3" width="5.5" height="5.5" fill="#050505"/><rect x="422.45" y="289.3" width="5.5" height="5.5" fill="#050505"/><rect x="427.9" y="289.3" width="5.5" height="5.5" fill="#050505"/><rect x="433.35" y="289.3" width="5.5" height="5.5" fill="#050505"/><rect x="438.8" y="289.3" width="2.95" height="5.5" fill="#050505"/><rect x="395.2" y="294.75" width="5.5" height="5.5" fill="#e3e3e3"/><rect x="400.65" y="294.75" width="5.5" height="5.5" fill="#515151"/><rect x="406.1" y="294.75" width="5.5" height="5.5" fill="#050505"/><rect x="411.55" y="294.75" width="5.5" height="5.5" fill="#050505"/><rect x="417" y="294.75" width="5.5" height="5.5" fill="#050505"/><rect x="422.45" y="294.75" width="5.5" height="5.5" fill="#050505"/><rect x="427.9" y="294.75" width="5.5" height="5.5" fill="#050505"/><rect x="433.35" y="294.75" width="5.5" height="5.5" fill="#050505"/><rect x="438.8" y="294.75" width="2.95" height="5.5" fill="#050505"/><rect x="395.2" y="300.2" width="5.5" height="5.5" fill="#e3e3e3"/><rect x="400.65" y="300.2" width="5.5" height="5.5" fill="#515151"/><rect x="406.1" y="300.2" width="5.5" height="5.5" fill="#050505"/><rect x="411.55" y="300.2" width="5.5" height="5.5" fill="#050505"/><rect x="417" y="300.2" width="5.5" height="5.5" fill="#050505"/><rect x="422.45" y="300.2" width="5.5" height="5.5" fill="#050505"/><rect x="427.9" y="300.2" width="5.5" height="5.5" fill="#050505"/><rect x="433.35" y="300.2" width="5.5" height="5.5" fill="#050505"/><rect x="438.8" y="300.2" width="2.95" height="5.5" fill="#050505"/><rect x="395.2" y="305.65" width="5.5" height="5.5" fill="#e3e3e3"/><rect x="400.65" y="305.65" width="5.5" height="5.5" fill="#515151"/><rect x="406.1" y="305.65" width="5.5" height="5.5" fill="#050505"/><rect x="411.55" y="305.65" width="5.5" height="5.5" fill="#050505"/><rect x="417" y="305.65" width="5.5" height="5.5" fill="#050505"/><rect x="422.45" y="305.65" width="5.5" height="5.5" fill="#050505"/><rect x="427.9" y="305.65" width="5.5" height="5.5" fill="#050505"/><rect x="433.35" y="305.65" width="5.5" height="5.5" fill="#050505"/><rect x="438.8" y="305.65" width="2.95" height="5.5" fill="#050505"/><rect x="395.2" y="311.1" width="5.5" height="3.05" fill="#e3e3e3"/><rect x="400.65" y="311.1" width="5.5" height="3.05" fill="#515151"/><rect x="406.1" y="311.1" width="5.5" height="3.05" fill="#050505"/><rect x="411.55" y="311.1" width="5.5" height="3.05" fill="#050505"/><rect x="417" y="311.1" width="5.5" height="3.05" fill="#050505"/><rect x="422.45" y="311.1" width="5.5" height="3.05" fill="#050505"/><rect x="427.9" y="311.1" width="5.5" height="3.05" fill="#050505"/><rect x="433.35" y="311.1" width="5.5" height="3.05" fill="#050505"/><rect x="438.8" y="311.1" width="2.95" height="3.05" fill="#050505"/></g>
<svg x="369.1" y="242.2" width="72.6" height="71.9" viewBox="369.1 242.2 72.6 71.9"><circle cx="369.2" cy="242.3" r="0.62" fill="#ff1414"/><circle cx="386.9" cy="242.3" r="0.62" fill="#ff1414"/><circle cx="404.6" cy="242.3" r="0.62" fill="#ff1414"/><circle cx="422.3" cy="242.3" r="0.62" fill="#ff1414"/><circle cx="440" cy="242.3" r="0.62" fill="#ff1414"/><circle cx="369.2" cy="260" r="0.62" fill="#ff1414"/><circle cx="386.9" cy="260" r="0.62" fill="#ff1414"/><path d="M404.76 259.94 L404.7 259.78 L405.1 259.82 L404.06 258.46 L404.1 260.18 L404.38 259.9 L404.44 260.06Z" fill="#ff1414"/><path d="M422.53 260 L422.53 259.77 L423.02 260 L422.3 257.78 L421.58 260 L422.07 259.77 L422.07 260Z" fill="#ff1414"/><path d="M440.23 260 L440.23 259.77 L440.72 260 L440 257.78 L439.28 260 L439.77 259.77 L439.77 260Z" fill="#ff1414"/><circle cx="369.2" cy="277.7" r="0.62" fill="#ff1414"/><path d="M386.94 277.56 L386.8 277.51 L387.03 277.26 L385.52 277.28 L386.77 278.14 L386.71 277.8 L386.86 277.84Z" fill="#ff1414"/><path d="M404.97 277.28 L395.51 268.86 L396.71 268.35 L391.54 266.07 L394.4 270.94 L394.76 269.69 L404.23 278.12Z" fill="#ff1414"/><path d="M422.86 277.7 L422.86 269.24 L424.04 269.8 L422.3 264.42 L420.56 269.8 L421.74 269.24 L421.74 277.7Z" fill="#ff1414"/><path d="M440.56 277.7 L440.56 269.24 L441.74 269.8 L440 264.42 L438.26 269.8 L439.44 269.24 L439.44 277.7Z" fill="#ff1414"/><circle cx="369.2" cy="295.4" r="0.62" fill="#ff1414"/><path d="M386.9 295.21 L386.71 295.21 L386.9 294.81 L385.08 295.4 L386.9 295.99 L386.71 295.59 L386.9 295.59Z" fill="#ff1414"/><path d="M404.6 294.84 L394.48 294.84 L395.04 293.66 L389.67 295.4 L395.04 297.14 L394.48 295.96 L404.6 295.96Z" fill="#ff1414"/><circle cx="422.3" cy="295.4" r="0.62" fill="#ff1414"/><circle cx="440" cy="295.4" r="0.62" fill="#ff1414"/><circle cx="369.2" cy="313.1" r="0.62" fill="#ff1414"/><path d="M386.9 312.91 L386.71 312.91 L386.9 312.51 L385.08 313.1 L386.9 313.69 L386.71 313.29 L386.9 313.29Z" fill="#ff1414"/><path d="M404.6 312.54 L394.48 312.54 L395.04 311.36 L389.67 313.1 L395.04 314.84 L394.48 313.66 L404.6 313.66Z" fill="#ff1414"/><circle cx="422.3" cy="313.1" r="0.62" fill="#ff1414"/><circle cx="440" cy="313.1" r="0.62" fill="#ff1414"/></svg>
<rect x="369.1" y="242.2" width="72.6" height="71.9" fill="none" stroke="#1f78d0" stroke-width="1.6"/>
<rect x="482.6" y="242.4" width="73.4" height="71.7" fill="#fff"/>
<g shape-rendering="crispEdges"><rect x="530.5" y="262.25" width="5.5" height="5.5" fill="#fbfbfb"/><rect x="535.95" y="262.25" width="5.5" height="5.5" fill="#f7f7f7"/><rect x="541.4" y="262.25" width="5.5" height="5.5" fill="#f7f7f7"/><rect x="546.85" y="262.25" width="5.5" height="5.5" fill="#f7f7f7"/><rect x="552.3" y="262.25" width="3.75" height="5.5" fill="#f7f7f7"/><rect x="519.6" y="267.7" width="5.5" height="5.5" fill="#f4f4f4"/><rect x="525.05" y="267.7" width="5.5" height="5.5" fill="#dcdcdc"/><rect x="530.5" y="267.7" width="5.5" height="5.5" fill="#c7c7c7"/><rect x="535.95" y="267.7" width="5.5" height="5.5" fill="#bdbdbd"/><rect x="541.4" y="267.7" width="5.5" height="5.5" fill="#bdbdbd"/><rect x="546.85" y="267.7" width="5.5" height="5.5" fill="#bdbdbd"/><rect x="552.3" y="267.7" width="3.75" height="5.5" fill="#bdbdbd"/><rect x="514.15" y="273.15" width="5.5" height="5.5" fill="#ececec"/><rect x="519.6" y="273.15" width="5.5" height="5.5" fill="#c3c3c3"/><rect x="525.05" y="273.15" width="5.5" height="5.5" fill="#959595"/><rect x="530.5" y="273.15" width="5.5" height="5.5" fill="#717171"/><rect x="535.95" y="273.15" width="5.5" height="5.5" fill="#626262"/><rect x="541.4" y="273.15" width="5.5" height="5.5" fill="#626262"/><rect x="546.85" y="273.15" width="5.5" height="5.5" fill="#626262"/><rect x="552.3" y="273.15" width="3.75" height="5.5" fill="#626262"/><rect x="508.7" y="278.6" width="5.5" height="5.5" fill="#f4f4f4"/><rect x="514.15" y="278.6" width="5.5" height="5.5" fill="#c4c4c4"/><rect x="519.6" y="278.6" width="5.5" height="5.5" fill="#818181"/><rect x="525.05" y="278.6" width="5.5" height="5.5" fill="#474747"/><rect x="530.5" y="278.6" width="5.5" height="5.5" fill="#262626"/><rect x="535.95" y="278.6" width="5.5" height="5.5" fill="#1b1b1b"/><rect x="541.4" y="278.6" width="5.5" height="5.5" fill="#1a1a1a"/><rect x="546.85" y="278.6" width="5.5" height="5.5" fill="#1a1a1a"/><rect x="552.3" y="278.6" width="3.75" height="5.5" fill="#1a1a1a"/><rect x="508.7" y="284.05" width="5.5" height="5.5" fill="#dedede"/><rect x="514.15" y="284.05" width="5.5" height="5.5" fill="#969696"/><rect x="519.6" y="284.05" width="5.5" height="5.5" fill="#484848"/><rect x="525.05" y="284.05" width="5.5" height="5.5" fill="#161616"/><rect x="530.5" y="284.05" width="5.5" height="5.5" fill="#050505"/><rect x="535.95" y="284.05" width="5.5" height="5.5" fill="#050505"/><rect x="541.4" y="284.05" width="5.5" height="5.5" fill="#050505"/><rect x="546.85" y="284.05" width="5.5" height="5.5" fill="#050505"/><rect x="552.3" y="284.05" width="3.75" height="5.5" fill="#050505"/><rect x="508.7" y="289.5" width="5.5" height="5.5" fill="#c9c9c9"/><rect x="514.15" y="289.5" width="5.5" height="5.5" fill="#747474"/><rect x="519.6" y="289.5" width="5.5" height="5.5" fill="#272727"/><rect x="525.05" y="289.5" width="5.5" height="5.5" fill="#050505"/><rect x="530.5" y="289.5" width="5.5" height="5.5" fill="#050505"/><rect x="535.95" y="289.5" width="5.5" height="5.5" fill="#050505"/><rect x="541.4" y="289.5" width="5.5" height="5.5" fill="#050505"/><rect x="546.85" y="289.5" width="5.5" height="5.5" fill="#050505"/><rect x="552.3" y="289.5" width="3.75" height="5.5" fill="#050505"/><rect x="503.25" y="294.95" width="5.5" height="5.5" fill="#f9f9f9"/><rect x="508.7" y="294.95" width="5.5" height="5.5" fill="#c0c0c0"/><rect x="514.15" y="294.95" width="5.5" height="5.5" fill="#656565"/><rect x="519.6" y="294.95" width="5.5" height="5.5" fill="#1c1c1c"/><rect x="525.05" y="294.95" width="5.5" height="5.5" fill="#050505"/><rect x="530.5" y="294.95" width="5.5" height="5.5" fill="#050505"/><rect x="535.95" y="294.95" width="5.5" height="5.5" fill="#050505"/><rect x="541.4" y="294.95" width="5.5" height="5.5" fill="#050505"/><rect x="546.85" y="294.95" width="5.5" height="5.5" fill="#050505"/><rect x="552.3" y="294.95" width="3.75" height="5.5" fill="#050505"/><rect x="503.25" y="300.4" width="5.5" height="5.5" fill="#f8f8f8"/><rect x="508.7" y="300.4" width="5.5" height="5.5" fill="#c0c0c0"/><rect x="514.15" y="300.4" width="5.5" height="5.5" fill="#656565"/><rect x="519.6" y="300.4" width="5.5" height="5.5" fill="#1c1c1c"/><rect x="525.05" y="300.4" width="5.5" height="5.5" fill="#050505"/><rect x="530.5" y="300.4" width="5.5" height="5.5" fill="#050505"/><rect x="535.95" y="300.4" width="5.5" height="5.5" fill="#050505"/><rect x="541.4" y="300.4" width="5.5" height="5.5" fill="#050505"/><rect x="546.85" y="300.4" width="5.5" height="5.5" fill="#050505"/><rect x="552.3" y="300.4" width="3.75" height="5.5" fill="#050505"/><rect x="503.25" y="305.85" width="5.5" height="5.5" fill="#f8f8f8"/><rect x="508.7" y="305.85" width="5.5" height="5.5" fill="#c0c0c0"/><rect x="514.15" y="305.85" width="5.5" height="5.5" fill="#656565"/><rect x="519.6" y="305.85" width="5.5" height="5.5" fill="#1c1c1c"/><rect x="525.05" y="305.85" width="5.5" height="5.5" fill="#050505"/><rect x="530.5" y="305.85" width="5.5" height="5.5" fill="#050505"/><rect x="535.95" y="305.85" width="5.5" height="5.5" fill="#050505"/><rect x="541.4" y="305.85" width="5.5" height="5.5" fill="#050505"/><rect x="546.85" y="305.85" width="5.5" height="5.5" fill="#050505"/><rect x="552.3" y="305.85" width="3.75" height="5.5" fill="#050505"/><rect x="503.25" y="311.3" width="5.5" height="2.85" fill="#f8f8f8"/><rect x="508.7" y="311.3" width="5.5" height="2.85" fill="#c0c0c0"/><rect x="514.15" y="311.3" width="5.5" height="2.85" fill="#656565"/><rect x="519.6" y="311.3" width="5.5" height="2.85" fill="#1c1c1c"/><rect x="525.05" y="311.3" width="5.5" height="2.85" fill="#050505"/><rect x="530.5" y="311.3" width="5.5" height="2.85" fill="#050505"/><rect x="535.95" y="311.3" width="5.5" height="2.85" fill="#050505"/><rect x="541.4" y="311.3" width="5.5" height="2.85" fill="#050505"/><rect x="546.85" y="311.3" width="5.5" height="2.85" fill="#050505"/><rect x="552.3" y="311.3" width="3.75" height="2.85" fill="#050505"/></g>
<svg x="482.6" y="242.4" width="73.4" height="71.7" viewBox="482.6 242.4 73.4 71.7"><circle cx="482.7" cy="242.5" r="0.62" fill="#ff1414"/><circle cx="500.4" cy="242.5" r="0.62" fill="#ff1414"/><circle cx="518.1" cy="242.5" r="0.62" fill="#ff1414"/><path d="M535.89 242.49 L535.89 242.4 L536.09 242.48 L535.74 241.61 L535.51 242.52 L535.7 242.41 L535.71 242.51Z" fill="#ff1414"/><path d="M553.59 242.5 L553.59 242.41 L553.79 242.5 L553.5 241.6 L553.21 242.5 L553.41 242.41 L553.41 242.5Z" fill="#ff1414"/><circle cx="482.7" cy="260.2" r="0.62" fill="#ff1414"/><path d="M500.47 260.12 L500.4 260.05 L500.63 259.96 L499.66 259.48 L500.17 260.44 L500.25 260.2 L500.33 260.28Z" fill="#ff1414"/><path d="M518.43 260.02 L518.24 259.69 L519.12 259.63 L516.33 257.06 L517.08 260.77 L517.59 260.06 L517.77 260.38Z" fill="#ff1414"/><path d="M536.36 260.14 L536.17 258.34 L537.4 258.78 L535.13 253.6 L533.95 259.13 L535.06 258.45 L535.24 260.26Z" fill="#ff1414"/><path d="M554.06 260.2 L554.06 258.24 L555.24 258.8 L553.5 253.43 L551.76 258.8 L552.94 258.24 L552.94 260.2Z" fill="#ff1414"/><circle cx="482.7" cy="277.9" r="0.62" fill="#ff1414"/><path d="M500.57 277.58 L500.25 277.42 L500.92 276.91 L497.35 276.3 L499.88 278.89 L499.92 278.05 L500.23 278.22Z" fill="#ff1414"/><path d="M518.49 277.49 L511.41 270.75 L512.63 270.28 L507.54 267.83 L510.23 272.79 L510.64 271.56 L517.71 278.31Z" fill="#ff1414"/><path d="M536.35 277.8 L534.25 266.69 L535.51 267.02 L532.8 262.06 L532.1 267.66 L533.15 266.89 L535.25 278Z" fill="#ff1414"/><path d="M554.06 277.9 L554.06 266.87 L555.24 267.43 L553.5 262.05 L551.76 267.43 L552.94 266.87 L552.94 277.9Z" fill="#ff1414"/><path d="M482.7 295.52 L482.62 295.51 L482.71 295.34 L481.9 295.56 L482.69 295.86 L482.61 295.68 L482.7 295.68Z" fill="#ff1414"/><path d="M500.44 295.04 L499.25 294.95 L499.9 293.82 L494.41 295.16 L499.64 297.28 L499.17 296.07 L500.36 296.16Z" fill="#ff1414"/><path d="M518.17 295.04 L506.43 293.47 L507.14 292.38 L501.58 293.38 L506.68 295.82 L506.28 294.58 L518.03 296.16Z" fill="#ff1414"/><path d="M536.02 295.3 L535.72 295.08 L536.48 294.68 L532.96 293.49 L535.12 296.52 L535.28 295.68 L535.58 295.9Z" fill="#ff1414"/><path d="M553.79 295.6 L553.79 295.31 L554.41 295.6 L553.5 292.77 L552.59 295.6 L553.21 295.31 L553.21 295.6Z" fill="#ff1414"/><path d="M482.7 313.22 L482.62 313.22 L482.7 313.04 L481.9 313.3 L482.7 313.56 L482.62 313.38 L482.7 313.38Z" fill="#ff1414"/><path d="M500.4 312.74 L499.14 312.74 L499.7 311.56 L494.32 313.3 L499.7 315.04 L499.14 313.86 L500.4 313.86Z" fill="#ff1414"/><path d="M518.1 312.74 L506.36 312.74 L506.92 311.56 L501.55 313.3 L506.92 315.04 L506.36 313.86 L518.1 313.86Z" fill="#ff1414"/><path d="M535.8 312.97 L535.47 312.97 L535.8 312.28 L532.63 313.3 L535.8 314.32 L535.47 313.63 L535.8 313.63Z" fill="#ff1414"/><circle cx="553.5" cy="313.3" r="0.62" fill="#ff1414"/></svg>
<rect x="482.6" y="242.4" width="73.4" height="71.7" fill="none" stroke="#1f78d0" stroke-width="1.6"/>
<rect x="597.3" y="242.2" width="72.2" height="72" fill="#fff"/>
<g shape-rendering="crispEdges"><rect x="661.55" y="242.2" width="5.5" height="3.55" fill="#fbfbfb"/><rect x="667" y="242.2" width="2.55" height="3.55" fill="#fbfbfb"/><rect x="645.2" y="245.7" width="5.5" height="5.5" fill="#fafafa"/><rect x="650.65" y="245.7" width="5.5" height="5.5" fill="#f7f7f7"/><rect x="656.1" y="245.7" width="5.5" height="5.5" fill="#f5f5f5"/><rect x="661.55" y="245.7" width="5.5" height="5.5" fill="#f4f4f4"/><rect x="667" y="245.7" width="2.55" height="5.5" fill="#f3f3f3"/><rect x="634.3" y="251.15" width="5.5" height="5.5" fill="#f9f9f9"/><rect x="639.75" y="251.15" width="5.5" height="5.5" fill="#f5f5f5"/><rect x="645.2" y="251.15" width="5.5" height="5.5" fill="#f2f2f2"/><rect x="650.65" y="251.15" width="5.5" height="5.5" fill="#eeeeee"/><rect x="656.1" y="251.15" width="5.5" height="5.5" fill="#ebebeb"/><rect x="661.55" y="251.15" width="5.5" height="5.5" fill="#e8e8e8"/><rect x="667" y="251.15" width="2.55" height="5.5" fill="#e7e7e7"/><rect x="623.4" y="256.6" width="5.5" height="5.5" fill="#fbfbfb"/><rect x="628.85" y="256.6" width="5.5" height="5.5" fill="#f7f7f7"/><rect x="634.3" y="256.6" width="5.5" height="5.5" fill="#f1f1f1"/><rect x="639.75" y="256.6" width="5.5" height="5.5" fill="#ececec"/><rect x="645.2" y="256.6" width="5.5" height="5.5" fill="#e5e5e5"/><rect x="650.65" y="256.6" width="5.5" height="5.5" fill="#dfdfdf"/><rect x="656.1" y="256.6" width="5.5" height="5.5" fill="#dadada"/><rect x="661.55" y="256.6" width="5.5" height="5.5" fill="#d6d6d6"/><rect x="667" y="256.6" width="2.55" height="5.5" fill="#d5d5d5"/><rect x="617.95" y="262.05" width="5.5" height="5.5" fill="#fafafa"/><rect x="623.4" y="262.05" width="5.5" height="5.5" fill="#f5f5f5"/><rect x="628.85" y="262.05" width="5.5" height="5.5" fill="#efefef"/><rect x="634.3" y="262.05" width="5.5" height="5.5" fill="#e7e7e7"/><rect x="639.75" y="262.05" width="5.5" height="5.5" fill="#dedede"/><rect x="645.2" y="262.05" width="5.5" height="5.5" fill="#d4d4d4"/><rect x="650.65" y="262.05" width="5.5" height="5.5" fill="#cbcbcb"/><rect x="656.1" y="262.05" width="5.5" height="5.5" fill="#c3c3c3"/><rect x="661.55" y="262.05" width="5.5" height="5.5" fill="#bdbdbd"/><rect x="667" y="262.05" width="2.55" height="5.5" fill="#bbbbbb"/><rect x="612.5" y="267.5" width="5.5" height="5.5" fill="#fbfbfb"/><rect x="617.95" y="267.5" width="5.5" height="5.5" fill="#f5f5f5"/><rect x="623.4" y="267.5" width="5.5" height="5.5" fill="#eeeeee"/><rect x="628.85" y="267.5" width="5.5" height="5.5" fill="#e4e4e4"/><rect x="634.3" y="267.5" width="5.5" height="5.5" fill="#d8d8d8"/><rect x="639.75" y="267.5" width="5.5" height="5.5" fill="#cbcbcb"/><rect x="645.2" y="267.5" width="5.5" height="5.5" fill="#bdbdbd"/><rect x="650.65" y="267.5" width="5.5" height="5.5" fill="#b0b0b0"/><rect x="656.1" y="267.5" width="5.5" height="5.5" fill="#a5a5a5"/><rect x="661.55" y="267.5" width="5.5" height="5.5" fill="#9e9e9e"/><rect x="667" y="267.5" width="2.55" height="5.5" fill="#9a9a9a"/><rect x="612.5" y="272.95" width="5.5" height="5.5" fill="#f7f7f7"/><rect x="617.95" y="272.95" width="5.5" height="5.5" fill="#efefef"/><rect x="623.4" y="272.95" width="5.5" height="5.5" fill="#e4e4e4"/><rect x="628.85" y="272.95" width="5.5" height="5.5" fill="#d6d6d6"/><rect x="634.3" y="272.95" width="5.5" height="5.5" fill="#c5c5c5"/><rect x="639.75" y="272.95" width="5.5" height="5.5" fill="#b3b3b3"/><rect x="645.2" y="272.95" width="5.5" height="5.5" fill="#a1a1a1"/><rect x="650.65" y="272.95" width="5.5" height="5.5" fill="#919191"/><rect x="656.1" y="272.95" width="5.5" height="5.5" fill="#838383"/><rect x="661.55" y="272.95" width="5.5" height="5.5" fill="#7a7a7a"/><rect x="667" y="272.95" width="2.55" height="5.5" fill="#767676"/><rect x="607.05" y="278.4" width="5.5" height="5.5" fill="#f9f9f9"/><rect x="612.5" y="278.4" width="5.5" height="5.5" fill="#f2f2f2"/><rect x="617.95" y="278.4" width="5.5" height="5.5" fill="#e7e7e7"/><rect x="623.4" y="278.4" width="5.5" height="5.5" fill="#d8d8d8"/><rect x="628.85" y="278.4" width="5.5" height="5.5" fill="#c6c6c6"/><rect x="634.3" y="278.4" width="5.5" height="5.5" fill="#b0b0b0"/><rect x="639.75" y="278.4" width="5.5" height="5.5" fill="#999999"/><rect x="645.2" y="278.4" width="5.5" height="5.5" fill="#838383"/><rect x="650.65" y="278.4" width="5.5" height="5.5" fill="#707070"/><rect x="656.1" y="278.4" width="5.5" height="5.5" fill="#626262"/><rect x="661.55" y="278.4" width="5.5" height="5.5" fill="#585858"/><rect x="667" y="278.4" width="2.55" height="5.5" fill="#545454"/><rect x="607.05" y="283.85" width="5.5" height="5.5" fill="#f5f5f5"/><rect x="612.5" y="283.85" width="5.5" height="5.5" fill="#ececec"/><rect x="617.95" y="283.85" width="5.5" height="5.5" fill="#dedede"/><rect x="623.4" y="283.85" width="5.5" height="5.5" fill="#cbcbcb"/><rect x="628.85" y="283.85" width="5.5" height="5.5" fill="#b3b3b3"/><rect x="634.3" y="283.85" width="5.5" height="5.5" fill="#999999"/><rect x="639.75" y="283.85" width="5.5" height="5.5" fill="#7e7e7e"/><rect x="645.2" y="283.85" width="5.5" height="5.5" fill="#666666"/><rect x="650.65" y="283.85" width="5.5" height="5.5" fill="#535353"/><rect x="656.1" y="283.85" width="5.5" height="5.5" fill="#454545"/><rect x="661.55" y="283.85" width="5.5" height="5.5" fill="#3c3c3c"/><rect x="667" y="283.85" width="2.55" height="5.5" fill="#373737"/><rect x="601.6" y="289.3" width="5.5" height="5.5" fill="#fafafa"/><rect x="607.05" y="289.3" width="5.5" height="5.5" fill="#f2f2f2"/><rect x="612.5" y="289.3" width="5.5" height="5.5" fill="#e6e6e6"/><rect x="617.95" y="289.3" width="5.5" height="5.5" fill="#d4d4d4"/><rect x="623.4" y="289.3" width="5.5" height="5.5" fill="#bdbdbd"/><rect x="628.85" y="289.3" width="5.5" height="5.5" fill="#a1a1a1"/><rect x="634.3" y="289.3" width="5.5" height="5.5" fill="#838383"/><rect x="639.75" y="289.3" width="5.5" height="5.5" fill="#676767"/><rect x="645.2" y="289.3" width="5.5" height="5.5" fill="#4e4e4e"/><rect x="650.65" y="289.3" width="5.5" height="5.5" fill="#3b3b3b"/><rect x="656.1" y="289.3" width="5.5" height="5.5" fill="#2e2e2e"/><rect x="661.55" y="289.3" width="5.5" height="5.5" fill="#262626"/><rect x="667" y="289.3" width="2.55" height="5.5" fill="#222222"/><rect x="601.6" y="294.75" width="5.5" height="5.5" fill="#f8f8f8"/><rect x="607.05" y="294.75" width="5.5" height="5.5" fill="#eeeeee"/><rect x="612.5" y="294.75" width="5.5" height="5.5" fill="#e0e0e0"/><rect x="617.95" y="294.75" width="5.5" height="5.5" fill="#cbcbcb"/><rect x="623.4" y="294.75" width="5.5" height="5.5" fill="#b1b1b1"/><rect x="628.85" y="294.75" width="5.5" height="5.5" fill="#919191"/><rect x="634.3" y="294.75" width="5.5" height="5.5" fill="#717171"/><rect x="639.75" y="294.75" width="5.5" height="5.5" fill="#535353"/><rect x="645.2" y="294.75" width="5.5" height="5.5" fill="#3b3b3b"/><rect x="650.65" y="294.75" width="5.5" height="5.5" fill="#2a2a2a"/><rect x="656.1" y="294.75" width="5.5" height="5.5" fill="#1e1e1e"/><rect x="661.55" y="294.75" width="5.5" height="5.5" fill="#171717"/><rect x="667" y="294.75" width="2.55" height="5.5" fill="#141414"/><rect x="601.6" y="300.2" width="5.5" height="5.5" fill="#f6f6f6"/><rect x="607.05" y="300.2" width="5.5" height="5.5" fill="#ebebeb"/><rect x="612.5" y="300.2" width="5.5" height="5.5" fill="#dbdbdb"/><rect x="617.95" y="300.2" width="5.5" height="5.5" fill="#c4c4c4"/><rect x="623.4" y="300.2" width="5.5" height="5.5" fill="#a6a6a6"/><rect x="628.85" y="300.2" width="5.5" height="5.5" fill="#848484"/><rect x="634.3" y="300.2" width="5.5" height="5.5" fill="#626262"/><rect x="639.75" y="300.2" width="5.5" height="5.5" fill="#454545"/><rect x="645.2" y="300.2" width="5.5" height="5.5" fill="#2e2e2e"/><rect x="650.65" y="300.2" width="5.5" height="5.5" fill="#1e1e1e"/><rect x="656.1" y="300.2" width="5.5" height="5.5" fill="#141414"/><rect x="661.55" y="300.2" width="5.5" height="5.5" fill="#0e0e0e"/><rect x="667" y="300.2" width="2.55" height="5.5" fill="#0b0b0b"/><rect x="601.6" y="305.65" width="5.5" height="5.5" fill="#f4f4f4"/><rect x="607.05" y="305.65" width="5.5" height="5.5" fill="#e9e9e9"/><rect x="612.5" y="305.65" width="5.5" height="5.5" fill="#d7d7d7"/><rect x="617.95" y="305.65" width="5.5" height="5.5" fill="#bebebe"/><rect x="623.4" y="305.65" width="5.5" height="5.5" fill="#9f9f9f"/><rect x="628.85" y="305.65" width="5.5" height="5.5" fill="#7b7b7b"/><rect x="634.3" y="305.65" width="5.5" height="5.5" fill="#595959"/><rect x="639.75" y="305.65" width="5.5" height="5.5" fill="#3c3c3c"/><rect x="645.2" y="305.65" width="5.5" height="5.5" fill="#262626"/><rect x="650.65" y="305.65" width="5.5" height="5.5" fill="#181818"/><rect x="656.1" y="305.65" width="5.5" height="5.5" fill="#0e0e0e"/><rect x="661.55" y="305.65" width="5.5" height="5.5" fill="#080808"/><rect x="667" y="305.65" width="2.55" height="5.5" fill="#060606"/><rect x="597.3" y="311.1" width="4.35" height="3.15" fill="#fbfbfb"/><rect x="601.6" y="311.1" width="5.5" height="3.15" fill="#f4f4f4"/><rect x="607.05" y="311.1" width="5.5" height="3.15" fill="#e8e8e8"/><rect x="612.5" y="311.1" width="5.5" height="3.15" fill="#d5d5d5"/><rect x="617.95" y="311.1" width="5.5" height="3.15" fill="#bcbcbc"/><rect x="623.4" y="311.1" width="5.5" height="3.15" fill="#9b9b9b"/><rect x="628.85" y="311.1" width="5.5" height="3.15" fill="#777777"/><rect x="634.3" y="311.1" width="5.5" height="3.15" fill="#555555"/><rect x="639.75" y="311.1" width="5.5" height="3.15" fill="#383838"/><rect x="645.2" y="311.1" width="5.5" height="3.15" fill="#232323"/><rect x="650.65" y="311.1" width="5.5" height="3.15" fill="#151515"/><rect x="656.1" y="311.1" width="5.5" height="3.15" fill="#0b0b0b"/><rect x="661.55" y="311.1" width="5.5" height="3.15" fill="#060606"/><rect x="667" y="311.1" width="2.55" height="3.15" fill="#050505"/></g>
<svg x="597.3" y="242.2" width="72.2" height="72" viewBox="597.3 242.2 72.2 72"><path d="M597.51 242.19 L597.4 242.08 L597.74 241.96 L596.33 241.25 L597.06 242.64 L597.18 242.3 L597.29 242.41Z" fill="#ff1414"/><path d="M615.32 242.13 L615.15 241.91 L615.79 241.77 L613.45 240.17 L614.41 242.83 L614.71 242.25 L614.88 242.47Z" fill="#ff1414"/><path d="M633.2 242.09 L632.99 241.69 L634.03 241.64 L630.77 238.48 L631.57 242.96 L632.19 242.11 L632.4 242.51Z" fill="#ff1414"/><path d="M651.04 242.14 L650.71 241.03 L652 241.24 L648.83 236.56 L648.67 242.21 L649.64 241.34 L649.96 242.46Z" fill="#ff1414"/><path d="M668.76 242.27 L668.66 240.23 L669.86 240.73 L667.85 235.44 L666.39 240.9 L667.54 240.28 L667.64 242.33Z" fill="#ff1414"/><path d="M597.57 259.78 L597.34 259.61 L597.92 259.31 L595.26 258.4 L596.88 260.69 L597.01 260.06 L597.23 260.22Z" fill="#ff1414"/><path d="M615.48 259.62 L615.09 259.24 L616.27 258.81 L611.42 256.38 L613.93 261.19 L614.34 260.01 L614.72 260.38Z" fill="#ff1414"/><path d="M633.26 259.68 L630.99 256.44 L632.27 256.22 L627.77 252.81 L629.43 258.21 L630.07 257.08 L632.34 260.32Z" fill="#ff1414"/><path d="M651.02 259.8 L648.35 252.84 L649.65 252.94 L646.11 248.54 L646.41 254.18 L647.31 253.24 L649.98 260.2Z" fill="#ff1414"/><path d="M668.76 259.96 L668.15 250.86 L669.37 251.34 L667.28 246.09 L665.9 251.57 L667.04 250.93 L667.64 260.04Z" fill="#ff1414"/><path d="M597.6 277.31 L597.21 277.11 L598.02 276.48 L593.62 275.77 L596.78 278.92 L596.81 277.89 L597.2 278.09Z" fill="#ff1414"/><path d="M615.41 277.23 L612.21 275.09 L613.33 274.42 L607.9 272.87 L611.39 277.3 L611.58 276.02 L614.79 278.17Z" fill="#ff1414"/><path d="M633.19 277.3 L626.26 270.54 L627.48 270.09 L622.42 267.58 L625.06 272.58 L625.48 271.34 L632.41 278.1Z" fill="#ff1414"/><path d="M650.99 277.43 L644.81 266.42 L646.11 266.33 L641.96 262.5 L643.08 268.03 L643.83 266.97 L650.01 277.97Z" fill="#ff1414"/><path d="M668.76 277.65 L667.56 265.32 L668.79 265.77 L666.54 260.58 L665.33 266.1 L666.45 265.43 L667.64 277.75Z" fill="#ff1414"/><path d="M597.55 294.86 L596.61 294.6 L597.46 293.62 L591.82 293.87 L596.55 296.97 L596.32 295.68 L597.25 295.94Z" fill="#ff1414"/><path d="M615.29 294.87 L608.51 292.44 L609.44 291.52 L603.79 291.34 L608.27 294.79 L608.14 293.49 L614.91 295.93Z" fill="#ff1414"/><path d="M633.06 294.9 L621.9 289.08 L622.94 288.3 L617.37 287.35 L621.33 291.38 L621.38 290.07 L632.54 295.9Z" fill="#ff1414"/><path d="M650.89 294.99 L643.83 288.27 L645.05 287.81 L639.96 285.35 L642.65 290.32 L643.06 289.08 L650.11 295.81Z" fill="#ff1414"/><path d="M668.75 295.3 L667.69 289.46 L668.95 289.8 L666.28 284.82 L665.53 290.42 L666.59 289.66 L667.65 295.5Z" fill="#ff1414"/><path d="M597.42 312.54 L595.67 312.48 L596.27 311.32 L590.84 312.86 L596.15 314.79 L595.63 313.6 L597.38 313.66Z" fill="#ff1414"/><path d="M615.13 312.54 L606.41 312.13 L607.03 310.98 L601.57 312.46 L606.86 314.45 L606.36 313.25 L615.07 313.66Z" fill="#ff1414"/><path d="M632.84 312.54 L620.36 311.68 L621 310.54 L615.51 311.91 L620.76 314.01 L620.28 312.8 L632.76 313.66Z" fill="#ff1414"/><path d="M650.57 312.54 L644.33 311.76 L645.03 310.66 L639.48 311.71 L644.6 314.1 L644.19 312.87 L650.43 313.66Z" fill="#ff1414"/><path d="M668.52 312.66 L668.08 312.34 L669.19 311.74 L663.99 310.03 L667.21 314.46 L667.44 313.22 L667.88 313.54Z" fill="#ff1414"/></svg>
<rect x="597.3" y="242.2" width="72.2" height="72" fill="none" stroke="#1f78d0" stroke-width="1.6"/>
<path d="M437.6 233h3.8v4.1h1.8l-3.7 3.9l-3.7 -3.9h1.8z" fill="#00b050"/>
<rect x="360.6" y="317.5" width="93.7" height="70.4" fill="#fff"/>
<rect x="360.6" y="317.5" width="93.7" height="70.4" fill="none" stroke="#b0b0b0" stroke-width="0.9"/>
<polyline fill="none" stroke="#ff1010" stroke-width="0.7" points="364.4,352.46 371.54,352.46 378.68,352.21 385.82,349.7 392.97,341.16 400.11,324.82 407.25,324.82 414.39,341.16 421.53,349.7 428.68,352.21 435.82,352.46 442.96,352.46 450.1,352.46"/>
<circle cx="364.4" cy="352.46" r="1.45" fill="#ff1010"/><circle cx="371.54" cy="352.46" r="1.45" fill="#ff1010"/><circle cx="378.68" cy="352.21" r="1.45" fill="#ff1010"/><circle cx="385.82" cy="349.7" r="1.45" fill="#ff1010"/><circle cx="392.97" cy="341.16" r="1.45" fill="#ff1010"/><circle cx="400.11" cy="324.82" r="1.45" fill="#ff1010"/><circle cx="407.25" cy="324.82" r="1.45" fill="#ff1010"/><circle cx="414.39" cy="341.16" r="1.45" fill="#ff1010"/><circle cx="421.53" cy="349.7" r="1.45" fill="#ff1010"/><circle cx="428.68" cy="352.21" r="1.45" fill="#ff1010"/><circle cx="435.82" cy="352.46" r="1.45" fill="#ff1010"/><circle cx="442.96" cy="352.46" r="1.45" fill="#ff1010"/><circle cx="450.1" cy="352.46" r="1.45" fill="#ff1010"/>
<polyline fill="none" stroke="#0a0a0a" stroke-width="0.7" points="364.4,384.37 371.54,384.37 378.68,384.37 385.82,384.37 392.97,382.36 400.11,368.29 407.25,336.63 414.39,322.56 421.53,321.06 428.68,320.55 435.82,320.55 442.96,320.55 450.1,320.55"/>
<circle cx="364.4" cy="384.37" r="1.45" fill="#0a0a0a"/><circle cx="371.54" cy="384.37" r="1.45" fill="#0a0a0a"/><circle cx="378.68" cy="384.37" r="1.45" fill="#0a0a0a"/><circle cx="385.82" cy="384.37" r="1.45" fill="#0a0a0a"/><circle cx="392.97" cy="382.36" r="1.45" fill="#0a0a0a"/><circle cx="400.11" cy="368.29" r="1.45" fill="#0a0a0a"/><circle cx="407.25" cy="336.63" r="1.45" fill="#0a0a0a"/><circle cx="414.39" cy="322.56" r="1.45" fill="#0a0a0a"/><circle cx="421.53" cy="321.06" r="1.45" fill="#0a0a0a"/><circle cx="428.68" cy="320.55" r="1.45" fill="#0a0a0a"/><circle cx="435.82" cy="320.55" r="1.45" fill="#0a0a0a"/><circle cx="442.96" cy="320.55" r="1.45" fill="#0a0a0a"/><circle cx="450.1" cy="320.55" r="1.45" fill="#0a0a0a"/>
<path d="M358.6 320.55H360.6M358.6 384.37H360.6M364.4 387.9v2M450.1 387.9v2" stroke="#555" stroke-width="0.6" fill="none"/>
<text x="357.4" y="323.35" font-size="7.8" text-anchor="end" font-family="DejaVu Sans, Liberation Sans, sans-serif" fill="#222" >1</text>
<text x="357.4" y="387.17" font-size="7.8" text-anchor="end" font-family="DejaVu Sans, Liberation Sans, sans-serif" fill="#222" >−1</text>
<text x="364.4" y="396.1" font-size="7.8" text-anchor="middle" font-family="DejaVu Sans, Liberation Sans, sans-serif" fill="#222" >1</text>
<text x="450.4" y="396.1" font-size="7.8" text-anchor="middle" font-family="DejaVu Sans, Liberation Sans, sans-serif" fill="#222" >13</text>
<text x="405.95" y="398.6" font-size="10.4" text-anchor="middle" font-family="Liberation Sans, Arial, sans-serif" fill="#333" >Pixel</text>
<rect x="475.1" y="317.5" width="94.5" height="70.4" fill="#fff"/>
<rect x="475.1" y="317.5" width="94.5" height="70.4" fill="none" stroke="#b0b0b0" stroke-width="0.9"/>
<polyline fill="none" stroke="#ff1010" stroke-width="0.7" points="478.4,352.21 485.53,351.21 492.67,348.44 499.8,341.91 506.93,331.61 514.07,322.06 521.2,322.06 528.33,331.61 535.47,341.91 542.6,348.44 549.73,351.21 556.87,352.21 564,352.46"/>
<circle cx="478.4" cy="352.21" r="1.45" fill="#ff1010"/><circle cx="485.53" cy="351.21" r="1.45" fill="#ff1010"/><circle cx="492.67" cy="348.44" r="1.45" fill="#ff1010"/><circle cx="499.8" cy="341.91" r="1.45" fill="#ff1010"/><circle cx="506.93" cy="331.61" r="1.45" fill="#ff1010"/><circle cx="514.07" cy="322.06" r="1.45" fill="#ff1010"/><circle cx="521.2" cy="322.06" r="1.45" fill="#ff1010"/><circle cx="528.33" cy="331.61" r="1.45" fill="#ff1010"/><circle cx="535.47" cy="341.91" r="1.45" fill="#ff1010"/><circle cx="542.6" cy="348.44" r="1.45" fill="#ff1010"/><circle cx="549.73" cy="351.21" r="1.45" fill="#ff1010"/><circle cx="556.87" cy="352.21" r="1.45" fill="#ff1010"/><circle cx="564" cy="352.46" r="1.45" fill="#ff1010"/>
<polyline fill="none" stroke="#0a0a0a" stroke-width="0.7" points="478.4,384.37 485.53,384.37 492.67,384.12 499.8,382.61 506.93,376.58 514.07,362.26 521.2,342.66 528.33,328.84 535.47,322.31 542.6,321.06 549.73,320.8 556.87,320.55 564,320.55"/>
<circle cx="478.4" cy="384.37" r="1.45" fill="#0a0a0a"/><circle cx="485.53" cy="384.37" r="1.45" fill="#0a0a0a"/><circle cx="492.67" cy="384.12" r="1.45" fill="#0a0a0a"/><circle cx="499.8" cy="382.61" r="1.45" fill="#0a0a0a"/><circle cx="506.93" cy="376.58" r="1.45" fill="#0a0a0a"/><circle cx="514.07" cy="362.26" r="1.45" fill="#0a0a0a"/><circle cx="521.2" cy="342.66" r="1.45" fill="#0a0a0a"/><circle cx="528.33" cy="328.84" r="1.45" fill="#0a0a0a"/><circle cx="535.47" cy="322.31" r="1.45" fill="#0a0a0a"/><circle cx="542.6" cy="321.06" r="1.45" fill="#0a0a0a"/><circle cx="549.73" cy="320.8" r="1.45" fill="#0a0a0a"/><circle cx="556.87" cy="320.55" r="1.45" fill="#0a0a0a"/><circle cx="564" cy="320.55" r="1.45" fill="#0a0a0a"/>
<path d="M473.1 320.55H475.1M473.1 384.37H475.1M478.4 387.9v2M564 387.9v2" stroke="#555" stroke-width="0.6" fill="none"/>
<text x="471.9" y="323.35" font-size="7.8" text-anchor="end" font-family="DejaVu Sans, Liberation Sans, sans-serif" fill="#222" >1</text>
<text x="471.9" y="387.17" font-size="7.8" text-anchor="end" font-family="DejaVu Sans, Liberation Sans, sans-serif" fill="#222" >−1</text>
<text x="478.4" y="396.1" font-size="7.8" text-anchor="middle" font-family="DejaVu Sans, Liberation Sans, sans-serif" fill="#222" >1</text>
<text x="564.3" y="396.1" font-size="7.8" text-anchor="middle" font-family="DejaVu Sans, Liberation Sans, sans-serif" fill="#222" >13</text>
<text x="520.85" y="398.6" font-size="10.4" text-anchor="middle" font-family="Liberation Sans, Arial, sans-serif" fill="#333" >Pixel</text>
<rect x="589.4" y="317.5" width="94.2" height="70.9" fill="#fff"/>
<rect x="589.4" y="317.5" width="94.2" height="70.9" fill="none" stroke="#b0b0b0" stroke-width="0.9"/>
<polyline fill="none" stroke="#ff1010" stroke-width="0.7" points="593.4,340.4 600.56,335.63 607.72,330.6 614.88,326.08 622.03,322.31 629.19,320.55 636.35,321.06 643.51,323.82 650.67,327.84 657.82,332.11 664.98,336.13 672.14,339.65 679.3,342.41"/>
<circle cx="593.4" cy="340.4" r="1.45" fill="#ff1010"/><circle cx="600.56" cy="335.63" r="1.45" fill="#ff1010"/><circle cx="607.72" cy="330.6" r="1.45" fill="#ff1010"/><circle cx="614.88" cy="326.08" r="1.45" fill="#ff1010"/><circle cx="622.03" cy="322.31" r="1.45" fill="#ff1010"/><circle cx="629.19" cy="320.55" r="1.45" fill="#ff1010"/><circle cx="636.35" cy="321.06" r="1.45" fill="#ff1010"/><circle cx="643.51" cy="323.82" r="1.45" fill="#ff1010"/><circle cx="650.67" cy="327.84" r="1.45" fill="#ff1010"/><circle cx="657.82" cy="332.11" r="1.45" fill="#ff1010"/><circle cx="664.98" cy="336.13" r="1.45" fill="#ff1010"/><circle cx="672.14" cy="339.65" r="1.45" fill="#ff1010"/><circle cx="679.3" cy="342.41" r="1.45" fill="#ff1010"/>
<polyline fill="none" stroke="#0a0a0a" stroke-width="0.7" points="593.4,384.37 600.56,381.86 607.72,377.84 614.88,372.06 622.03,364.77 629.19,356.48 636.35,347.69 643.51,339.4 650.67,332.86 657.82,328.34 664.98,325.33 672.14,323.32 679.3,322.31"/>
<circle cx="593.4" cy="384.37" r="1.45" fill="#0a0a0a"/><circle cx="600.56" cy="381.86" r="1.45" fill="#0a0a0a"/><circle cx="607.72" cy="377.84" r="1.45" fill="#0a0a0a"/><circle cx="614.88" cy="372.06" r="1.45" fill="#0a0a0a"/><circle cx="622.03" cy="364.77" r="1.45" fill="#0a0a0a"/><circle cx="629.19" cy="356.48" r="1.45" fill="#0a0a0a"/><circle cx="636.35" cy="347.69" r="1.45" fill="#0a0a0a"/><circle cx="643.51" cy="339.4" r="1.45" fill="#0a0a0a"/><circle cx="650.67" cy="332.86" r="1.45" fill="#0a0a0a"/><circle cx="657.82" cy="328.34" r="1.45" fill="#0a0a0a"/><circle cx="664.98" cy="325.33" r="1.45" fill="#0a0a0a"/><circle cx="672.14" cy="323.32" r="1.45" fill="#0a0a0a"/><circle cx="679.3" cy="322.31" r="1.45" fill="#0a0a0a"/>
<path d="M587.4 320.55H589.4M587.4 387.39H589.4M593.4 388.4v2M679.3 388.4v2" stroke="#555" stroke-width="0.6" fill="none"/>
<text x="586.2" y="323.35" font-size="7.8" text-anchor="end" font-family="DejaVu Sans, Liberation Sans, sans-serif" fill="#222" >1</text>
<text x="586.2" y="390.19" font-size="7.8" text-anchor="end" font-family="DejaVu Sans, Liberation Sans, sans-serif" fill="#222" >−1</text>
<text x="593.4" y="396.6" font-size="7.8" text-anchor="middle" font-family="DejaVu Sans, Liberation Sans, sans-serif" fill="#222" >1</text>
<text x="679.6" y="396.6" font-size="7.8" text-anchor="middle" font-family="DejaVu Sans, Liberation Sans, sans-serif" fill="#222" >13</text>
<text x="635" y="399.1" font-size="10.4" text-anchor="middle" font-family="Liberation Sans, Arial, sans-serif" fill="#333" >Pixel</text>
<text x="408.2" y="412.3" font-size="12.4" text-anchor="middle" font-family="Liberation Sans, Arial, sans-serif" fill="#111" >Iteration : 5</text>
<text x="522.3" y="412.3" font-size="12.4" text-anchor="middle" font-family="Liberation Sans, Arial, sans-serif" fill="#111" >10</text>
<text x="637.9" y="412.3" font-size="12.4" text-anchor="middle" font-family="Liberation Sans, Arial, sans-serif" fill="#111" >50</text>
</svg>
</body></html>
